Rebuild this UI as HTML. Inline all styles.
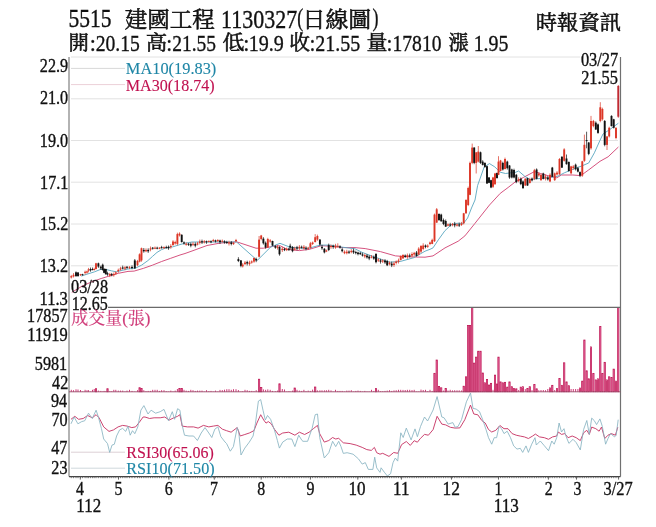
<!DOCTYPE html>
<html><head><meta charset="utf-8"><style>html,body{margin:0;padding:0;background:#fff;width:656px;height:527px;overflow:hidden}svg{display:block}</style></head>
<body><svg width="656" height="527" viewBox="0 0 656 527">
<rect width="656" height="527" fill="#fff"/>
<line x1="71" y1="57.0" x2="580" y2="57.0" stroke="#e2e2e2" stroke-width="1"/>
<line x1="71" y1="98.8" x2="618" y2="98.8" stroke="#e2e2e2" stroke-width="1"/>
<line x1="71" y1="140.5" x2="618" y2="140.5" stroke="#e2e2e2" stroke-width="1"/>
<line x1="71" y1="182.2" x2="618" y2="182.2" stroke="#e2e2e2" stroke-width="1"/>
<line x1="71" y1="224.0" x2="618" y2="224.0" stroke="#e2e2e2" stroke-width="1"/>
<line x1="71" y1="265.8" x2="618" y2="265.8" stroke="#e2e2e2" stroke-width="1"/>
<line x1="71" y1="68.4" x2="125" y2="68.4" stroke="#d8d8d8" stroke-width="1"/>
<line x1="71" y1="84.6" x2="125" y2="84.6" stroke="#ecd0d8" stroke-width="1"/>
<line x1="71" y1="452.2" x2="125" y2="452.2" stroke="#dcd0d6" stroke-width="1"/>
<line x1="71" y1="468.2" x2="125" y2="468.2" stroke="#cfd8dc" stroke-width="1"/>
<polyline points="71.8,292.3 82.2,286.1 91.7,281.8 101.2,278.5 110.7,275.6 118.3,273.3 128.0,271.4 134.1,271.1 143.3,268.4 152.4,265.2 161.6,261.5 170.7,258.3 180.0,255.0 185.0,253.5 192.0,251.0 207.0,245.5 220.0,243.1 236.6,241.8 256.0,248.2 263.4,248.2 273.2,246.3 280.0,245.7 287.2,249.4 299.4,250.6 309.1,249.4 321.3,245.7 332.3,246.3 343.3,247.6 355.0,247.6 365.2,248.6 380.4,251.6 395.5,255.9 410.7,256.9 425.0,257.2 433.0,255.9 445.0,247.9 458.2,241.2 464.9,235.9 475.0,223.3 489.5,205.0 500.2,193.4 508.1,187.5 515.0,182.1 523.3,177.5 534.6,171.5 540.5,173.5 549.8,176.2 556.8,177.8 561.4,175.0 572.8,175.0 580.8,175.6 588.7,169.9 600.0,161.3 608.1,156.8 618.4,147.0" fill="none" stroke="#d04070" stroke-width="0.9" stroke-linejoin="round"/>
<polyline points="81.3,276.1 87.0,274.2 94.6,271.8 100.3,269.5 106.0,269.5 111.7,270.9 116.4,271.8 122.1,270.4 128.0,269.0 136.0,267.9 141.5,265.2 147.9,260.6 152.4,256.5 157.0,252.4 161.6,249.6 166.2,247.8 172.6,246.9 179.9,244.6 185.0,243.2 192.0,242.0 205.0,242.0 236.6,242.0 257.3,260.4 270.7,247.0 280.0,243.3 289.6,247.0 306.7,248.8 320.1,245.1 329.9,245.1 340.9,247.0 355.0,248.8 362.1,252.4 374.3,256.9 389.5,262.2 400.1,261.5 413.8,257.7 425.0,251.2 430.0,249.3 433.0,247.9 438.3,239.9 445.0,230.6 451.6,224.6 457.0,223.3 463.6,223.3 467.6,218.0 471.5,208.0 475.0,200.0 477.6,185.5 484.2,166.9 489.5,163.6 494.8,166.9 500.2,172.2 505.5,173.5 510.8,172.8 515.0,172.5 518.6,171.0 524.6,176.2 529.9,179.5 536.6,178.8 544.5,178.2 551.2,177.5 557.8,176.2 564.4,172.8 572.8,169.3 581.9,165.9 588.7,163.0 594.4,152.8 600.0,140.3 603.0,134.0 609.8,129.5 618.4,123.2" fill="none" stroke="#58a6c0" stroke-width="0.9" stroke-linejoin="round"/>
<line x1="71.3" y1="274.9" x2="71.3" y2="278.5" stroke="#dc3626" stroke-width="0.7"/>
<rect x="70.35" y="276.1" width="1.9" height="1.4" fill="#dc3626"/>
<line x1="73.5" y1="273.1" x2="73.5" y2="277.5" stroke="#dc3626" stroke-width="0.7"/>
<rect x="72.55" y="274.8" width="1.9" height="1.7" fill="#dc3626"/>
<line x1="76.0" y1="271.4" x2="76.0" y2="276.8" stroke="#111" stroke-width="0.7"/>
<rect x="75.05" y="272.3" width="1.9" height="3.8" fill="#111"/>
<line x1="78.0" y1="272.1" x2="78.0" y2="276.9" stroke="#111" stroke-width="0.7"/>
<rect x="77.05" y="272.5" width="1.9" height="3.5" fill="#111"/>
<line x1="80.5" y1="273.9" x2="80.5" y2="276.0" stroke="#dc3626" stroke-width="0.7"/>
<rect x="79.55" y="274.2" width="1.9" height="1.0" fill="#dc3626"/>
<line x1="82.5" y1="273.8" x2="82.5" y2="275.6" stroke="#111" stroke-width="0.7"/>
<rect x="81.55" y="274.2" width="1.9" height="1.0" fill="#111"/>
<line x1="85.1" y1="270.6" x2="85.1" y2="274.6" stroke="#dc3626" stroke-width="0.7"/>
<rect x="84.15" y="271.8" width="1.9" height="1.1" fill="#dc3626"/>
<line x1="87.0" y1="270.6" x2="87.0" y2="273.6" stroke="#dc3626" stroke-width="0.7"/>
<rect x="86.05" y="271.4" width="1.9" height="1.2" fill="#dc3626"/>
<line x1="88.5" y1="267.9" x2="88.5" y2="272.4" stroke="#dc3626" stroke-width="0.7"/>
<rect x="87.55" y="269.4" width="1.9" height="1.2" fill="#dc3626"/>
<line x1="90.5" y1="267.5" x2="90.5" y2="271.7" stroke="#111" stroke-width="0.7"/>
<rect x="89.55" y="269.0" width="1.9" height="1.4" fill="#111"/>
<line x1="92.5" y1="267.5" x2="92.5" y2="270.4" stroke="#111" stroke-width="0.7"/>
<rect x="91.55" y="269.0" width="1.9" height="1.0" fill="#111"/>
<line x1="94.2" y1="267.7" x2="94.2" y2="270.6" stroke="#dc3626" stroke-width="0.7"/>
<rect x="93.25" y="269.0" width="1.9" height="1.0" fill="#dc3626"/>
<line x1="96.0" y1="262.8" x2="96.0" y2="269.4" stroke="#dc3626" stroke-width="0.7"/>
<rect x="95.05" y="263.3" width="1.9" height="5.7" fill="#dc3626"/>
<line x1="98.4" y1="262.6" x2="98.4" y2="267.9" stroke="#111" stroke-width="0.7"/>
<rect x="97.45" y="263.3" width="1.9" height="3.3" fill="#111"/>
<line x1="100.8" y1="265.6" x2="100.8" y2="270.0" stroke="#111" stroke-width="0.7"/>
<rect x="99.85" y="266.7" width="1.9" height="1.7" fill="#111"/>
<line x1="102.7" y1="263.6" x2="102.7" y2="270.7" stroke="#111" stroke-width="0.7"/>
<rect x="101.75" y="264.7" width="1.9" height="5.3" fill="#111"/>
<line x1="104.1" y1="268.0" x2="104.1" y2="273.2" stroke="#111" stroke-width="0.7"/>
<rect x="103.15" y="269.0" width="1.9" height="3.8" fill="#111"/>
<line x1="105.8" y1="268.6" x2="105.8" y2="274.7" stroke="#111" stroke-width="0.7"/>
<rect x="104.85" y="269.0" width="1.9" height="5.2" fill="#111"/>
<line x1="107.5" y1="271.7" x2="107.5" y2="275.8" stroke="#111" stroke-width="0.7"/>
<rect x="106.55" y="273.2" width="1.9" height="1.3" fill="#111"/>
<line x1="109.8" y1="272.8" x2="109.8" y2="277.1" stroke="#dc3626" stroke-width="0.7"/>
<rect x="108.85" y="274.0" width="1.9" height="1.6" fill="#dc3626"/>
<line x1="111.7" y1="272.9" x2="111.7" y2="276.3" stroke="#111" stroke-width="0.7"/>
<rect x="110.75" y="274.1" width="1.9" height="1.1" fill="#111"/>
<line x1="113.8" y1="272.4" x2="113.8" y2="276.7" stroke="#dc3626" stroke-width="0.7"/>
<rect x="112.85" y="274.1" width="1.9" height="1.1" fill="#dc3626"/>
<line x1="115.8" y1="271.4" x2="115.8" y2="275.0" stroke="#dc3626" stroke-width="0.7"/>
<rect x="114.85" y="272.4" width="1.9" height="1.2" fill="#dc3626"/>
<line x1="118.3" y1="268.6" x2="118.3" y2="272.8" stroke="#dc3626" stroke-width="0.7"/>
<rect x="117.35" y="269.9" width="1.9" height="1.1" fill="#dc3626"/>
<line x1="120.5" y1="266.8" x2="120.5" y2="270.6" stroke="#dc3626" stroke-width="0.7"/>
<rect x="119.55" y="268.4" width="1.9" height="1.2" fill="#dc3626"/>
<line x1="122.7" y1="265.6" x2="122.7" y2="269.4" stroke="#111" stroke-width="0.7"/>
<rect x="121.75" y="267.5" width="1.9" height="1.1" fill="#111"/>
<line x1="125.0" y1="266.2" x2="125.0" y2="270.2" stroke="#dc3626" stroke-width="0.7"/>
<rect x="124.05" y="267.4" width="1.9" height="1.2" fill="#dc3626"/>
<line x1="127.0" y1="266.0" x2="127.0" y2="268.9" stroke="#111" stroke-width="0.7"/>
<rect x="126.05" y="266.8" width="1.9" height="1.0" fill="#111"/>
<line x1="129.5" y1="266.2" x2="129.5" y2="269.1" stroke="#dc3626" stroke-width="0.7"/>
<rect x="128.55" y="266.8" width="1.9" height="1.0" fill="#dc3626"/>
<line x1="132.0" y1="265.3" x2="132.0" y2="269.3" stroke="#111" stroke-width="0.7"/>
<rect x="131.05" y="266.9" width="1.9" height="1.1" fill="#111"/>
<line x1="134.8" y1="259.0" x2="134.8" y2="269.0" stroke="#111" stroke-width="0.7"/>
<rect x="133.85" y="260.4" width="1.9" height="7.9" fill="#111"/>
<line x1="137.5" y1="259.9" x2="137.5" y2="266.2" stroke="#dc3626" stroke-width="0.7"/>
<rect x="136.55" y="261.0" width="1.9" height="4.2" fill="#dc3626"/>
<line x1="139.6" y1="253.3" x2="139.6" y2="262.4" stroke="#dc3626" stroke-width="0.7"/>
<rect x="138.65" y="254.3" width="1.9" height="7.3" fill="#dc3626"/>
<line x1="141.5" y1="247.6" x2="141.5" y2="261.7" stroke="#dc3626" stroke-width="0.7"/>
<rect x="140.55" y="248.2" width="1.9" height="12.2" fill="#dc3626"/>
<line x1="143.8" y1="248.0" x2="143.8" y2="252.7" stroke="#111" stroke-width="0.7"/>
<rect x="142.85" y="249.9" width="1.9" height="1.4" fill="#111"/>
<line x1="146.0" y1="248.3" x2="146.0" y2="252.2" stroke="#dc3626" stroke-width="0.7"/>
<rect x="145.05" y="249.9" width="1.9" height="1.4" fill="#dc3626"/>
<line x1="148.2" y1="248.3" x2="148.2" y2="252.9" stroke="#111" stroke-width="0.7"/>
<rect x="147.25" y="249.9" width="1.9" height="1.4" fill="#111"/>
<line x1="150.5" y1="246.5" x2="150.5" y2="251.3" stroke="#dc3626" stroke-width="0.7"/>
<rect x="149.55" y="248.4" width="1.9" height="1.2" fill="#dc3626"/>
<line x1="152.7" y1="247.0" x2="152.7" y2="249.6" stroke="#111" stroke-width="0.7"/>
<rect x="151.75" y="247.7" width="1.9" height="1.0" fill="#111"/>
<line x1="155.0" y1="246.5" x2="155.0" y2="249.1" stroke="#dc3626" stroke-width="0.7"/>
<rect x="154.05" y="247.7" width="1.9" height="1.0" fill="#dc3626"/>
<line x1="157.2" y1="246.7" x2="157.2" y2="249.3" stroke="#111" stroke-width="0.7"/>
<rect x="156.25" y="247.7" width="1.9" height="1.0" fill="#111"/>
<line x1="159.5" y1="247.2" x2="159.5" y2="249.2" stroke="#dc3626" stroke-width="0.7"/>
<rect x="158.55" y="247.7" width="1.9" height="1.0" fill="#dc3626"/>
<line x1="161.6" y1="245.8" x2="161.6" y2="248.7" stroke="#111" stroke-width="0.7"/>
<rect x="160.65" y="247.1" width="1.9" height="1.0" fill="#111"/>
<line x1="164.0" y1="246.4" x2="164.0" y2="249.0" stroke="#dc3626" stroke-width="0.7"/>
<rect x="163.05" y="247.1" width="1.9" height="1.0" fill="#dc3626"/>
<line x1="166.3" y1="245.7" x2="166.3" y2="248.6" stroke="#111" stroke-width="0.7"/>
<rect x="165.35" y="247.1" width="1.9" height="1.0" fill="#111"/>
<line x1="168.5" y1="245.5" x2="168.5" y2="249.8" stroke="#111" stroke-width="0.7"/>
<rect x="167.55" y="246.8" width="1.9" height="1.5" fill="#111"/>
<line x1="170.8" y1="244.1" x2="170.8" y2="248.8" stroke="#dc3626" stroke-width="0.7"/>
<rect x="169.85" y="245.9" width="1.9" height="1.2" fill="#dc3626"/>
<line x1="173.0" y1="240.2" x2="173.0" y2="245.7" stroke="#dc3626" stroke-width="0.7"/>
<rect x="172.05" y="241.5" width="1.9" height="3.6" fill="#dc3626"/>
<line x1="175.2" y1="240.7" x2="175.2" y2="244.7" stroke="#dc3626" stroke-width="0.7"/>
<rect x="174.25" y="242.0" width="1.9" height="1.5" fill="#dc3626"/>
<line x1="177.4" y1="232.7" x2="177.4" y2="245.3" stroke="#dc3626" stroke-width="0.7"/>
<rect x="176.45" y="234.1" width="1.9" height="9.8" fill="#dc3626"/>
<line x1="179.5" y1="232.3" x2="179.5" y2="236.5" stroke="#dc3626" stroke-width="0.7"/>
<rect x="178.55" y="233.6" width="1.9" height="1.8" fill="#dc3626"/>
<line x1="181.7" y1="234.3" x2="181.7" y2="242.6" stroke="#111" stroke-width="0.7"/>
<rect x="180.75" y="234.8" width="1.9" height="7.2" fill="#111"/>
<line x1="184.0" y1="241.4" x2="184.0" y2="244.7" stroke="#111" stroke-width="0.7"/>
<rect x="183.05" y="242.4" width="1.9" height="1.1" fill="#111"/>
<line x1="186.2" y1="242.3" x2="186.2" y2="245.7" stroke="#dc3626" stroke-width="0.7"/>
<rect x="185.25" y="243.7" width="1.9" height="1.1" fill="#dc3626"/>
<line x1="188.5" y1="243.0" x2="188.5" y2="245.9" stroke="#111" stroke-width="0.7"/>
<rect x="187.55" y="243.7" width="1.9" height="1.1" fill="#111"/>
<line x1="190.8" y1="242.6" x2="190.8" y2="247.3" stroke="#111" stroke-width="0.7"/>
<rect x="189.85" y="243.9" width="1.9" height="1.8" fill="#111"/>
<line x1="193.0" y1="242.1" x2="193.0" y2="246.1" stroke="#dc3626" stroke-width="0.7"/>
<rect x="192.05" y="243.8" width="1.9" height="1.0" fill="#dc3626"/>
<line x1="195.3" y1="242.4" x2="195.3" y2="247.3" stroke="#111" stroke-width="0.7"/>
<rect x="194.35" y="243.9" width="1.9" height="1.8" fill="#111"/>
<line x1="197.5" y1="241.9" x2="197.5" y2="245.4" stroke="#dc3626" stroke-width="0.7"/>
<rect x="196.55" y="243.4" width="1.9" height="1.2" fill="#dc3626"/>
<line x1="199.8" y1="239.6" x2="199.8" y2="244.5" stroke="#dc3626" stroke-width="0.7"/>
<rect x="198.85" y="241.5" width="1.9" height="1.4" fill="#dc3626"/>
<line x1="202.0" y1="239.6" x2="202.0" y2="244.0" stroke="#111" stroke-width="0.7"/>
<rect x="201.05" y="241.3" width="1.9" height="1.1" fill="#111"/>
<line x1="204.3" y1="240.1" x2="204.3" y2="243.5" stroke="#dc3626" stroke-width="0.7"/>
<rect x="203.35" y="241.3" width="1.9" height="1.1" fill="#dc3626"/>
<line x1="206.5" y1="240.6" x2="206.5" y2="243.8" stroke="#111" stroke-width="0.7"/>
<rect x="205.55" y="241.3" width="1.9" height="1.0" fill="#111"/>
<line x1="208.8" y1="240.5" x2="208.8" y2="242.4" stroke="#dc3626" stroke-width="0.7"/>
<rect x="207.85" y="240.9" width="1.9" height="1.0" fill="#dc3626"/>
<line x1="211.0" y1="240.4" x2="211.0" y2="243.2" stroke="#111" stroke-width="0.7"/>
<rect x="210.05" y="241.3" width="1.9" height="1.0" fill="#111"/>
<line x1="213.3" y1="238.9" x2="213.3" y2="241.9" stroke="#dc3626" stroke-width="0.7"/>
<rect x="212.35" y="240.0" width="1.9" height="1.1" fill="#dc3626"/>
<line x1="215.5" y1="239.7" x2="215.5" y2="242.5" stroke="#111" stroke-width="0.7"/>
<rect x="214.55" y="240.4" width="1.9" height="1.2" fill="#111"/>
<line x1="217.8" y1="239.2" x2="217.8" y2="242.2" stroke="#dc3626" stroke-width="0.7"/>
<rect x="216.85" y="240.0" width="1.9" height="1.1" fill="#dc3626"/>
<line x1="220.0" y1="239.7" x2="220.0" y2="244.0" stroke="#111" stroke-width="0.7"/>
<rect x="219.05" y="240.5" width="1.9" height="1.6" fill="#111"/>
<line x1="222.3" y1="239.5" x2="222.3" y2="242.5" stroke="#dc3626" stroke-width="0.7"/>
<rect x="221.35" y="240.8" width="1.9" height="1.0" fill="#dc3626"/>
<line x1="224.5" y1="240.3" x2="224.5" y2="243.7" stroke="#111" stroke-width="0.7"/>
<rect x="223.55" y="241.3" width="1.9" height="1.3" fill="#111"/>
<line x1="226.8" y1="240.8" x2="226.8" y2="243.9" stroke="#111" stroke-width="0.7"/>
<rect x="225.85" y="241.9" width="1.9" height="1.2" fill="#111"/>
<line x1="229.0" y1="240.7" x2="229.0" y2="245.5" stroke="#dc3626" stroke-width="0.7"/>
<rect x="228.05" y="242.4" width="1.9" height="1.2" fill="#dc3626"/>
<line x1="231.3" y1="241.1" x2="231.3" y2="245.4" stroke="#111" stroke-width="0.7"/>
<rect x="230.35" y="242.5" width="1.9" height="1.5" fill="#111"/>
<line x1="233.5" y1="242.1" x2="233.5" y2="244.9" stroke="#dc3626" stroke-width="0.7"/>
<rect x="232.55" y="242.9" width="1.9" height="1.2" fill="#dc3626"/>
<line x1="236.0" y1="238.9" x2="236.0" y2="242.1" stroke="#dc3626" stroke-width="0.7"/>
<rect x="235.05" y="240.0" width="1.9" height="1.1" fill="#dc3626"/>
<line x1="238.4" y1="257.2" x2="238.4" y2="262.1" stroke="#111" stroke-width="0.7"/>
<rect x="237.45" y="259.1" width="1.9" height="1.9" fill="#111"/>
<line x1="240.9" y1="260.1" x2="240.9" y2="267.3" stroke="#111" stroke-width="0.7"/>
<rect x="239.95" y="260.4" width="1.9" height="5.5" fill="#111"/>
<line x1="242.7" y1="263.1" x2="242.7" y2="267.5" stroke="#dc3626" stroke-width="0.7"/>
<rect x="241.75" y="264.6" width="1.9" height="1.8" fill="#dc3626"/>
<line x1="245.0" y1="261.0" x2="245.0" y2="264.9" stroke="#dc3626" stroke-width="0.7"/>
<rect x="244.05" y="262.5" width="1.9" height="1.6" fill="#dc3626"/>
<line x1="247.2" y1="260.7" x2="247.2" y2="265.5" stroke="#111" stroke-width="0.7"/>
<rect x="246.25" y="262.1" width="1.9" height="1.4" fill="#111"/>
<line x1="249.5" y1="260.7" x2="249.5" y2="265.7" stroke="#dc3626" stroke-width="0.7"/>
<rect x="248.55" y="262.5" width="1.9" height="1.6" fill="#dc3626"/>
<line x1="251.7" y1="260.4" x2="251.7" y2="263.7" stroke="#dc3626" stroke-width="0.7"/>
<rect x="250.75" y="261.4" width="1.9" height="1.2" fill="#dc3626"/>
<line x1="254.0" y1="257.5" x2="254.0" y2="262.8" stroke="#dc3626" stroke-width="0.7"/>
<rect x="253.05" y="258.0" width="1.9" height="3.6" fill="#dc3626"/>
<line x1="256.2" y1="257.6" x2="256.2" y2="262.2" stroke="#111" stroke-width="0.7"/>
<rect x="255.25" y="259.0" width="1.9" height="1.5" fill="#111"/>
<line x1="259.1" y1="236.0" x2="259.1" y2="257.4" stroke="#dc3626" stroke-width="0.7"/>
<rect x="258.15" y="239.6" width="1.9" height="17.1" fill="#dc3626"/>
<line x1="261.2" y1="234.9" x2="261.2" y2="240.3" stroke="#dc3626" stroke-width="0.7"/>
<rect x="260.25" y="235.5" width="1.9" height="3.5" fill="#dc3626"/>
<line x1="263.4" y1="237.2" x2="263.4" y2="244.6" stroke="#111" stroke-width="0.7"/>
<rect x="262.45" y="238.7" width="1.9" height="4.6" fill="#111"/>
<line x1="265.6" y1="241.5" x2="265.6" y2="248.7" stroke="#111" stroke-width="0.7"/>
<rect x="264.65" y="242.8" width="1.9" height="4.6" fill="#111"/>
<line x1="267.8" y1="237.8" x2="267.8" y2="248.0" stroke="#dc3626" stroke-width="0.7"/>
<rect x="266.85" y="239.0" width="1.9" height="8.4" fill="#dc3626"/>
<line x1="270.2" y1="239.1" x2="270.2" y2="242.7" stroke="#dc3626" stroke-width="0.7"/>
<rect x="269.25" y="240.4" width="1.9" height="1.2" fill="#dc3626"/>
<line x1="272.5" y1="240.7" x2="272.5" y2="245.9" stroke="#111" stroke-width="0.7"/>
<rect x="271.55" y="241.0" width="1.9" height="4.6" fill="#111"/>
<line x1="275.4" y1="245.1" x2="275.4" y2="248.8" stroke="#111" stroke-width="0.7"/>
<rect x="274.45" y="246.2" width="1.9" height="1.5" fill="#111"/>
<line x1="277.5" y1="245.2" x2="277.5" y2="249.6" stroke="#dc3626" stroke-width="0.7"/>
<rect x="276.55" y="246.7" width="1.9" height="1.1" fill="#dc3626"/>
<line x1="279.5" y1="246.2" x2="279.5" y2="255.7" stroke="#111" stroke-width="0.7"/>
<rect x="278.55" y="247.0" width="1.9" height="7.3" fill="#111"/>
<line x1="282.3" y1="246.7" x2="282.3" y2="252.0" stroke="#dc3626" stroke-width="0.7"/>
<rect x="281.35" y="248.7" width="1.9" height="1.4" fill="#dc3626"/>
<line x1="284.5" y1="247.8" x2="284.5" y2="251.1" stroke="#111" stroke-width="0.7"/>
<rect x="283.55" y="248.9" width="1.9" height="1.2" fill="#111"/>
<line x1="286.7" y1="247.6" x2="286.7" y2="251.1" stroke="#dc3626" stroke-width="0.7"/>
<rect x="285.75" y="248.7" width="1.9" height="1.4" fill="#dc3626"/>
<line x1="288.9" y1="247.7" x2="288.9" y2="251.0" stroke="#111" stroke-width="0.7"/>
<rect x="287.95" y="248.6" width="1.9" height="1.1" fill="#111"/>
<line x1="290.2" y1="243.7" x2="290.2" y2="249.5" stroke="#111" stroke-width="0.7"/>
<rect x="289.25" y="245.7" width="1.9" height="1.9" fill="#111"/>
<line x1="292.5" y1="246.1" x2="292.5" y2="252.3" stroke="#111" stroke-width="0.7"/>
<rect x="291.55" y="247.0" width="1.9" height="4.2" fill="#111"/>
<line x1="294.7" y1="246.7" x2="294.7" y2="250.4" stroke="#dc3626" stroke-width="0.7"/>
<rect x="293.75" y="248.4" width="1.9" height="1.2" fill="#dc3626"/>
<line x1="297.0" y1="245.9" x2="297.0" y2="250.4" stroke="#111" stroke-width="0.7"/>
<rect x="296.05" y="247.4" width="1.9" height="1.2" fill="#111"/>
<line x1="299.4" y1="245.1" x2="299.4" y2="250.0" stroke="#dc3626" stroke-width="0.7"/>
<rect x="298.45" y="246.8" width="1.9" height="1.5" fill="#dc3626"/>
<line x1="301.6" y1="245.6" x2="301.6" y2="248.5" stroke="#111" stroke-width="0.7"/>
<rect x="300.65" y="246.8" width="1.9" height="1.0" fill="#111"/>
<line x1="303.9" y1="245.1" x2="303.9" y2="249.5" stroke="#dc3626" stroke-width="0.7"/>
<rect x="302.95" y="246.8" width="1.9" height="1.5" fill="#dc3626"/>
<line x1="306.0" y1="246.3" x2="306.0" y2="250.3" stroke="#111" stroke-width="0.7"/>
<rect x="305.05" y="247.7" width="1.9" height="1.0" fill="#111"/>
<line x1="308.2" y1="246.8" x2="308.2" y2="249.6" stroke="#dc3626" stroke-width="0.7"/>
<rect x="307.25" y="247.7" width="1.9" height="1.0" fill="#dc3626"/>
<line x1="310.4" y1="241.9" x2="310.4" y2="248.8" stroke="#dc3626" stroke-width="0.7"/>
<rect x="309.45" y="243.3" width="1.9" height="4.3" fill="#dc3626"/>
<line x1="312.6" y1="241.5" x2="312.6" y2="245.0" stroke="#dc3626" stroke-width="0.7"/>
<rect x="311.65" y="242.5" width="1.9" height="1.5" fill="#dc3626"/>
<line x1="315.2" y1="234.1" x2="315.2" y2="242.5" stroke="#dc3626" stroke-width="0.7"/>
<rect x="314.25" y="237.2" width="1.9" height="4.8" fill="#dc3626"/>
<line x1="317.4" y1="234.6" x2="317.4" y2="240.9" stroke="#dc3626" stroke-width="0.7"/>
<rect x="316.45" y="236.0" width="1.9" height="3.6" fill="#dc3626"/>
<line x1="319.9" y1="239.1" x2="319.9" y2="245.8" stroke="#111" stroke-width="0.7"/>
<rect x="318.95" y="239.6" width="1.9" height="4.9" fill="#111"/>
<line x1="322.0" y1="244.8" x2="322.0" y2="249.9" stroke="#111" stroke-width="0.7"/>
<rect x="321.05" y="246.8" width="1.9" height="1.5" fill="#111"/>
<line x1="324.4" y1="248.1" x2="324.4" y2="253.4" stroke="#111" stroke-width="0.7"/>
<rect x="323.45" y="248.8" width="1.9" height="3.6" fill="#111"/>
<line x1="326.4" y1="249.5" x2="326.4" y2="252.1" stroke="#dc3626" stroke-width="0.7"/>
<rect x="325.45" y="250.4" width="1.9" height="1.1" fill="#dc3626"/>
<line x1="328.7" y1="243.6" x2="328.7" y2="251.1" stroke="#111" stroke-width="0.7"/>
<rect x="327.75" y="245.1" width="1.9" height="4.9" fill="#111"/>
<line x1="331.0" y1="244.6" x2="331.0" y2="248.9" stroke="#dc3626" stroke-width="0.7"/>
<rect x="330.05" y="245.9" width="1.9" height="1.2" fill="#dc3626"/>
<line x1="333.2" y1="244.7" x2="333.2" y2="248.8" stroke="#111" stroke-width="0.7"/>
<rect x="332.25" y="245.9" width="1.9" height="1.2" fill="#111"/>
<line x1="335.5" y1="243.8" x2="335.5" y2="248.8" stroke="#dc3626" stroke-width="0.7"/>
<rect x="334.55" y="245.7" width="1.9" height="1.9" fill="#dc3626"/>
<line x1="337.8" y1="243.3" x2="337.8" y2="247.6" stroke="#dc3626" stroke-width="0.7"/>
<rect x="336.85" y="245.8" width="1.9" height="1.0" fill="#dc3626"/>
<line x1="340.0" y1="245.3" x2="340.0" y2="248.6" stroke="#111" stroke-width="0.7"/>
<rect x="339.05" y="246.4" width="1.9" height="1.2" fill="#111"/>
<line x1="342.2" y1="247.8" x2="342.2" y2="252.4" stroke="#111" stroke-width="0.7"/>
<rect x="341.25" y="249.4" width="1.9" height="1.8" fill="#111"/>
<line x1="344.5" y1="250.4" x2="344.5" y2="254.2" stroke="#dc3626" stroke-width="0.7"/>
<rect x="343.55" y="251.7" width="1.9" height="1.5" fill="#dc3626"/>
<line x1="346.8" y1="249.8" x2="346.8" y2="254.4" stroke="#dc3626" stroke-width="0.7"/>
<rect x="345.85" y="251.7" width="1.9" height="1.5" fill="#dc3626"/>
<line x1="349.0" y1="250.4" x2="349.0" y2="254.0" stroke="#111" stroke-width="0.7"/>
<rect x="348.05" y="251.6" width="1.9" height="1.1" fill="#111"/>
<line x1="351.3" y1="249.1" x2="351.3" y2="253.3" stroke="#dc3626" stroke-width="0.7"/>
<rect x="350.35" y="250.9" width="1.9" height="1.2" fill="#dc3626"/>
<line x1="353.5" y1="248.6" x2="353.5" y2="253.9" stroke="#111" stroke-width="0.7"/>
<rect x="352.55" y="250.6" width="1.9" height="1.8" fill="#111"/>
<line x1="355.8" y1="250.7" x2="355.8" y2="254.4" stroke="#111" stroke-width="0.7"/>
<rect x="354.85" y="252.0" width="1.9" height="1.1" fill="#111"/>
<line x1="358.0" y1="251.7" x2="358.0" y2="255.4" stroke="#111" stroke-width="0.7"/>
<rect x="357.05" y="252.5" width="1.9" height="1.6" fill="#111"/>
<line x1="360.3" y1="252.0" x2="360.3" y2="254.9" stroke="#111" stroke-width="0.7"/>
<rect x="359.35" y="252.9" width="1.9" height="1.3" fill="#111"/>
<line x1="362.5" y1="252.7" x2="362.5" y2="256.5" stroke="#111" stroke-width="0.7"/>
<rect x="361.55" y="254.4" width="1.9" height="1.2" fill="#111"/>
<line x1="364.8" y1="253.6" x2="364.8" y2="258.2" stroke="#dc3626" stroke-width="0.7"/>
<rect x="363.85" y="255.0" width="1.9" height="1.5" fill="#dc3626"/>
<line x1="367.0" y1="254.0" x2="367.0" y2="258.7" stroke="#111" stroke-width="0.7"/>
<rect x="366.05" y="255.6" width="1.9" height="1.8" fill="#111"/>
<line x1="369.2" y1="255.1" x2="369.2" y2="260.2" stroke="#111" stroke-width="0.7"/>
<rect x="368.25" y="256.6" width="1.9" height="1.9" fill="#111"/>
<line x1="371.5" y1="255.0" x2="371.5" y2="258.4" stroke="#dc3626" stroke-width="0.7"/>
<rect x="370.55" y="256.6" width="1.9" height="1.1" fill="#dc3626"/>
<line x1="373.8" y1="255.5" x2="373.8" y2="259.8" stroke="#111" stroke-width="0.7"/>
<rect x="372.85" y="257.0" width="1.9" height="1.6" fill="#111"/>
<line x1="376.0" y1="253.3" x2="376.0" y2="263.4" stroke="#111" stroke-width="0.7"/>
<rect x="375.05" y="253.9" width="1.9" height="8.3" fill="#111"/>
<line x1="378.3" y1="258.1" x2="378.3" y2="262.0" stroke="#dc3626" stroke-width="0.7"/>
<rect x="377.35" y="259.4" width="1.9" height="1.2" fill="#dc3626"/>
<line x1="380.5" y1="258.8" x2="380.5" y2="263.6" stroke="#111" stroke-width="0.7"/>
<rect x="379.55" y="260.4" width="1.9" height="1.3" fill="#111"/>
<line x1="382.7" y1="259.2" x2="382.7" y2="263.0" stroke="#dc3626" stroke-width="0.7"/>
<rect x="381.75" y="260.4" width="1.9" height="1.2" fill="#dc3626"/>
<line x1="385.0" y1="259.1" x2="385.0" y2="263.9" stroke="#111" stroke-width="0.7"/>
<rect x="384.05" y="260.6" width="1.9" height="1.8" fill="#111"/>
<line x1="387.2" y1="259.9" x2="387.2" y2="266.1" stroke="#111" stroke-width="0.7"/>
<rect x="386.25" y="261.0" width="1.9" height="4.3" fill="#111"/>
<line x1="389.5" y1="261.3" x2="389.5" y2="265.4" stroke="#dc3626" stroke-width="0.7"/>
<rect x="388.55" y="262.7" width="1.9" height="1.4" fill="#dc3626"/>
<line x1="391.7" y1="261.6" x2="391.7" y2="267.1" stroke="#111" stroke-width="0.7"/>
<rect x="390.75" y="263.6" width="1.9" height="1.8" fill="#111"/>
<line x1="394.0" y1="261.6" x2="394.0" y2="266.9" stroke="#dc3626" stroke-width="0.7"/>
<rect x="393.05" y="263.5" width="1.9" height="1.5" fill="#dc3626"/>
<line x1="396.2" y1="260.4" x2="396.2" y2="264.5" stroke="#dc3626" stroke-width="0.7"/>
<rect x="395.25" y="261.5" width="1.9" height="1.5" fill="#dc3626"/>
<line x1="398.5" y1="258.6" x2="398.5" y2="263.5" stroke="#dc3626" stroke-width="0.7"/>
<rect x="397.55" y="260.4" width="1.9" height="1.3" fill="#dc3626"/>
<line x1="400.7" y1="255.5" x2="400.7" y2="260.4" stroke="#dc3626" stroke-width="0.7"/>
<rect x="399.75" y="256.0" width="1.9" height="4.0" fill="#dc3626"/>
<line x1="403.0" y1="254.2" x2="403.0" y2="258.8" stroke="#dc3626" stroke-width="0.7"/>
<rect x="402.05" y="255.0" width="1.9" height="3.4" fill="#dc3626"/>
<line x1="405.2" y1="254.4" x2="405.2" y2="257.9" stroke="#111" stroke-width="0.7"/>
<rect x="404.25" y="255.5" width="1.9" height="1.5" fill="#111"/>
<line x1="407.4" y1="253.5" x2="407.4" y2="258.9" stroke="#dc3626" stroke-width="0.7"/>
<rect x="406.45" y="255.2" width="1.9" height="1.9" fill="#dc3626"/>
<line x1="409.7" y1="253.6" x2="409.7" y2="257.5" stroke="#111" stroke-width="0.7"/>
<rect x="408.75" y="255.4" width="1.9" height="1.2" fill="#111"/>
<line x1="412.0" y1="252.3" x2="412.0" y2="257.3" stroke="#dc3626" stroke-width="0.7"/>
<rect x="411.05" y="254.0" width="1.9" height="1.6" fill="#dc3626"/>
<line x1="414.2" y1="251.9" x2="414.2" y2="256.4" stroke="#dc3626" stroke-width="0.7"/>
<rect x="413.25" y="252.9" width="1.9" height="1.6" fill="#dc3626"/>
<line x1="416.5" y1="251.0" x2="416.5" y2="256.6" stroke="#111" stroke-width="0.7"/>
<rect x="415.55" y="252.5" width="1.9" height="3.5" fill="#111"/>
<line x1="418.7" y1="247.2" x2="418.7" y2="255.4" stroke="#dc3626" stroke-width="0.7"/>
<rect x="417.75" y="248.6" width="1.9" height="6.0" fill="#dc3626"/>
<line x1="421.0" y1="245.1" x2="421.0" y2="253.1" stroke="#dc3626" stroke-width="0.7"/>
<rect x="420.05" y="246.0" width="1.9" height="5.6" fill="#dc3626"/>
<line x1="423.2" y1="243.3" x2="423.2" y2="250.3" stroke="#dc3626" stroke-width="0.7"/>
<rect x="422.25" y="245.5" width="1.9" height="3.5" fill="#dc3626"/>
<line x1="425.5" y1="244.5" x2="425.5" y2="248.3" stroke="#111" stroke-width="0.7"/>
<rect x="424.55" y="245.5" width="1.9" height="1.5" fill="#111"/>
<line x1="427.7" y1="244.3" x2="427.7" y2="247.9" stroke="#dc3626" stroke-width="0.7"/>
<rect x="426.75" y="245.6" width="1.9" height="1.2" fill="#dc3626"/>
<line x1="430.0" y1="241.5" x2="430.0" y2="245.2" stroke="#dc3626" stroke-width="0.7"/>
<rect x="429.05" y="242.5" width="1.9" height="1.5" fill="#dc3626"/>
<line x1="432.2" y1="238.7" x2="432.2" y2="244.2" stroke="#dc3626" stroke-width="0.7"/>
<rect x="431.25" y="239.9" width="1.9" height="4.0" fill="#dc3626"/>
<line x1="434.5" y1="213.6" x2="434.5" y2="242.0" stroke="#dc3626" stroke-width="0.7"/>
<rect x="433.55" y="214.6" width="1.9" height="26.6" fill="#dc3626"/>
<line x1="436.7" y1="208.0" x2="436.7" y2="222.9" stroke="#dc3626" stroke-width="0.7"/>
<rect x="435.75" y="209.3" width="1.9" height="13.3" fill="#dc3626"/>
<line x1="439.0" y1="213.3" x2="439.0" y2="221.0" stroke="#111" stroke-width="0.7"/>
<rect x="438.05" y="214.0" width="1.9" height="6.0" fill="#111"/>
<line x1="441.2" y1="213.7" x2="441.2" y2="221.7" stroke="#111" stroke-width="0.7"/>
<rect x="440.25" y="214.6" width="1.9" height="6.7" fill="#111"/>
<line x1="443.5" y1="218.5" x2="443.5" y2="225.2" stroke="#111" stroke-width="0.7"/>
<rect x="442.55" y="220.0" width="1.9" height="4.0" fill="#111"/>
<line x1="445.7" y1="219.5" x2="445.7" y2="227.0" stroke="#111" stroke-width="0.7"/>
<rect x="444.75" y="221.0" width="1.9" height="5.6" fill="#111"/>
<line x1="448.0" y1="223.4" x2="448.0" y2="226.3" stroke="#dc3626" stroke-width="0.7"/>
<rect x="447.05" y="224.4" width="1.9" height="1.2" fill="#dc3626"/>
<line x1="450.2" y1="222.8" x2="450.2" y2="226.6" stroke="#111" stroke-width="0.7"/>
<rect x="449.25" y="224.4" width="1.9" height="1.2" fill="#111"/>
<line x1="452.5" y1="223.0" x2="452.5" y2="226.3" stroke="#dc3626" stroke-width="0.7"/>
<rect x="451.55" y="223.9" width="1.9" height="1.2" fill="#dc3626"/>
<line x1="454.7" y1="221.9" x2="454.7" y2="227.3" stroke="#111" stroke-width="0.7"/>
<rect x="453.75" y="223.8" width="1.9" height="1.6" fill="#111"/>
<line x1="457.0" y1="223.4" x2="457.0" y2="226.5" stroke="#dc3626" stroke-width="0.7"/>
<rect x="456.05" y="224.4" width="1.9" height="1.2" fill="#dc3626"/>
<line x1="459.2" y1="222.6" x2="459.2" y2="227.0" stroke="#111" stroke-width="0.7"/>
<rect x="458.25" y="224.4" width="1.9" height="1.2" fill="#111"/>
<line x1="461.5" y1="221.9" x2="461.5" y2="225.9" stroke="#dc3626" stroke-width="0.7"/>
<rect x="460.55" y="223.5" width="1.9" height="1.5" fill="#dc3626"/>
<line x1="463.7" y1="212.9" x2="463.7" y2="224.4" stroke="#dc3626" stroke-width="0.7"/>
<rect x="462.75" y="213.3" width="1.9" height="10.0" fill="#dc3626"/>
<line x1="466.0" y1="199.2" x2="466.0" y2="213.7" stroke="#dc3626" stroke-width="0.7"/>
<rect x="465.05" y="200.0" width="1.9" height="13.3" fill="#dc3626"/>
<line x1="468.2" y1="186.6" x2="468.2" y2="206.1" stroke="#dc3626" stroke-width="0.7"/>
<rect x="467.25" y="188.0" width="1.9" height="17.0" fill="#dc3626"/>
<line x1="470.0" y1="161.6" x2="470.0" y2="195.2" stroke="#dc3626" stroke-width="0.7"/>
<rect x="469.05" y="162.9" width="1.9" height="31.9" fill="#dc3626"/>
<line x1="472.2" y1="143.6" x2="472.2" y2="164.2" stroke="#dc3626" stroke-width="0.7"/>
<rect x="471.25" y="147.6" width="1.9" height="15.3" fill="#dc3626"/>
<line x1="474.2" y1="147.2" x2="474.2" y2="164.2" stroke="#111" stroke-width="0.7"/>
<rect x="473.25" y="147.6" width="1.9" height="15.3" fill="#111"/>
<line x1="476.2" y1="152.3" x2="476.2" y2="173.5" stroke="#dc3626" stroke-width="0.7"/>
<rect x="475.25" y="152.3" width="1.9" height="10.6" fill="#dc3626"/>
<line x1="478.3" y1="146.0" x2="478.3" y2="162.4" stroke="#dc3626" stroke-width="0.7"/>
<rect x="477.35" y="151.6" width="1.9" height="10.0" fill="#dc3626"/>
<line x1="480.5" y1="151.6" x2="480.5" y2="163.9" stroke="#111" stroke-width="0.7"/>
<rect x="479.55" y="152.3" width="1.9" height="10.6" fill="#111"/>
<line x1="482.7" y1="160.2" x2="482.7" y2="165.5" stroke="#111" stroke-width="0.7"/>
<rect x="481.75" y="161.6" width="1.9" height="3.3" fill="#111"/>
<line x1="484.9" y1="162.4" x2="484.9" y2="167.8" stroke="#111" stroke-width="0.7"/>
<rect x="483.95" y="162.9" width="1.9" height="4.0" fill="#111"/>
<line x1="487.0" y1="165.6" x2="487.0" y2="183.9" stroke="#111" stroke-width="0.7"/>
<rect x="486.05" y="166.2" width="1.9" height="17.3" fill="#111"/>
<line x1="489.0" y1="177.0" x2="489.0" y2="183.2" stroke="#111" stroke-width="0.7"/>
<rect x="488.05" y="177.5" width="1.9" height="5.3" fill="#111"/>
<line x1="491.0" y1="179.7" x2="491.0" y2="188.2" stroke="#111" stroke-width="0.7"/>
<rect x="490.05" y="180.2" width="1.9" height="7.3" fill="#111"/>
<line x1="493.0" y1="176.8" x2="493.0" y2="188.0" stroke="#dc3626" stroke-width="0.7"/>
<rect x="492.05" y="177.5" width="1.9" height="9.3" fill="#dc3626"/>
<line x1="495.0" y1="172.9" x2="495.0" y2="185.0" stroke="#dc3626" stroke-width="0.7"/>
<rect x="494.05" y="173.5" width="1.9" height="10.6" fill="#dc3626"/>
<line x1="497.0" y1="172.5" x2="497.0" y2="178.7" stroke="#111" stroke-width="0.7"/>
<rect x="496.05" y="173.0" width="1.9" height="5.0" fill="#111"/>
<line x1="498.5" y1="156.2" x2="498.5" y2="175.1" stroke="#dc3626" stroke-width="0.7"/>
<rect x="497.55" y="161.6" width="1.9" height="13.2" fill="#dc3626"/>
<line x1="500.5" y1="159.9" x2="500.5" y2="171.3" stroke="#dc3626" stroke-width="0.7"/>
<rect x="499.55" y="160.5" width="1.9" height="10.5" fill="#dc3626"/>
<line x1="502.8" y1="161.7" x2="502.8" y2="170.5" stroke="#111" stroke-width="0.7"/>
<rect x="501.85" y="162.9" width="1.9" height="6.6" fill="#111"/>
<line x1="505.0" y1="157.6" x2="505.0" y2="169.5" stroke="#dc3626" stroke-width="0.7"/>
<rect x="504.05" y="159.0" width="1.9" height="10.0" fill="#dc3626"/>
<line x1="507.3" y1="160.7" x2="507.3" y2="169.6" stroke="#111" stroke-width="0.7"/>
<rect x="506.35" y="161.6" width="1.9" height="6.6" fill="#111"/>
<line x1="509.5" y1="165.1" x2="509.5" y2="178.8" stroke="#111" stroke-width="0.7"/>
<rect x="508.55" y="165.5" width="1.9" height="12.0" fill="#111"/>
<line x1="511.8" y1="168.7" x2="511.8" y2="178.4" stroke="#111" stroke-width="0.7"/>
<rect x="510.85" y="169.5" width="1.9" height="8.0" fill="#111"/>
<line x1="514.0" y1="168.7" x2="514.0" y2="178.3" stroke="#111" stroke-width="0.7"/>
<rect x="513.05" y="170.0" width="1.9" height="7.5" fill="#111"/>
<line x1="516.3" y1="173.9" x2="516.3" y2="183.2" stroke="#111" stroke-width="0.7"/>
<rect x="515.35" y="174.8" width="1.9" height="7.3" fill="#111"/>
<line x1="518.6" y1="177.3" x2="518.6" y2="182.2" stroke="#dc3626" stroke-width="0.7"/>
<rect x="517.65" y="179.3" width="1.9" height="1.6" fill="#dc3626"/>
<line x1="520.8" y1="177.5" x2="520.8" y2="185.2" stroke="#111" stroke-width="0.7"/>
<rect x="519.85" y="178.8" width="1.9" height="5.3" fill="#111"/>
<line x1="523.0" y1="180.4" x2="523.0" y2="188.9" stroke="#111" stroke-width="0.7"/>
<rect x="522.05" y="181.5" width="1.9" height="6.6" fill="#111"/>
<line x1="525.3" y1="178.1" x2="525.3" y2="185.9" stroke="#dc3626" stroke-width="0.7"/>
<rect x="524.35" y="178.8" width="1.9" height="6.7" fill="#dc3626"/>
<line x1="527.5" y1="177.7" x2="527.5" y2="185.9" stroke="#111" stroke-width="0.7"/>
<rect x="526.55" y="178.2" width="1.9" height="7.3" fill="#111"/>
<line x1="529.8" y1="177.8" x2="529.8" y2="183.6" stroke="#dc3626" stroke-width="0.7"/>
<rect x="528.85" y="179.0" width="1.9" height="4.0" fill="#dc3626"/>
<line x1="532.0" y1="177.5" x2="532.0" y2="181.4" stroke="#111" stroke-width="0.7"/>
<rect x="531.05" y="178.6" width="1.9" height="1.8" fill="#111"/>
<line x1="534.4" y1="168.9" x2="534.4" y2="180.1" stroke="#dc3626" stroke-width="0.7"/>
<rect x="533.45" y="170.2" width="1.9" height="8.6" fill="#dc3626"/>
<line x1="536.6" y1="168.4" x2="536.6" y2="179.4" stroke="#111" stroke-width="0.7"/>
<rect x="535.65" y="169.5" width="1.9" height="9.3" fill="#111"/>
<line x1="538.8" y1="172.4" x2="538.8" y2="176.7" stroke="#dc3626" stroke-width="0.7"/>
<rect x="537.85" y="173.6" width="1.9" height="1.8" fill="#dc3626"/>
<line x1="541.0" y1="173.9" x2="541.0" y2="180.7" stroke="#dc3626" stroke-width="0.7"/>
<rect x="540.05" y="174.8" width="1.9" height="5.4" fill="#dc3626"/>
<line x1="543.3" y1="172.7" x2="543.3" y2="179.4" stroke="#111" stroke-width="0.7"/>
<rect x="542.35" y="173.5" width="1.9" height="5.3" fill="#111"/>
<line x1="545.5" y1="174.5" x2="545.5" y2="180.5" stroke="#dc3626" stroke-width="0.7"/>
<rect x="544.55" y="176.6" width="1.9" height="1.8" fill="#dc3626"/>
<line x1="547.8" y1="176.0" x2="547.8" y2="180.6" stroke="#111" stroke-width="0.7"/>
<rect x="546.85" y="177.6" width="1.9" height="1.8" fill="#111"/>
<line x1="550.0" y1="173.3" x2="550.0" y2="182.2" stroke="#dc3626" stroke-width="0.7"/>
<rect x="549.05" y="174.8" width="1.9" height="6.7" fill="#dc3626"/>
<line x1="552.3" y1="166.9" x2="552.3" y2="177.0" stroke="#111" stroke-width="0.7"/>
<rect x="551.35" y="167.6" width="1.9" height="9.1" fill="#111"/>
<line x1="554.7" y1="172.5" x2="554.7" y2="181.0" stroke="#dc3626" stroke-width="0.7"/>
<rect x="553.75" y="173.3" width="1.9" height="6.8" fill="#dc3626"/>
<line x1="557.0" y1="171.1" x2="557.0" y2="175.5" stroke="#dc3626" stroke-width="0.7"/>
<rect x="556.05" y="172.6" width="1.9" height="1.8" fill="#dc3626"/>
<line x1="559.5" y1="158.1" x2="559.5" y2="174.7" stroke="#dc3626" stroke-width="0.7"/>
<rect x="558.55" y="159.0" width="1.9" height="15.4" fill="#dc3626"/>
<line x1="561.9" y1="156.2" x2="561.9" y2="168.0" stroke="#111" stroke-width="0.7"/>
<rect x="560.95" y="156.8" width="1.9" height="10.8" fill="#111"/>
<line x1="564.2" y1="148.2" x2="564.2" y2="161.6" stroke="#dc3626" stroke-width="0.7"/>
<rect x="563.25" y="149.4" width="1.9" height="11.4" fill="#dc3626"/>
<line x1="566.5" y1="154.5" x2="566.5" y2="164.6" stroke="#111" stroke-width="0.7"/>
<rect x="565.55" y="158.5" width="1.9" height="5.7" fill="#111"/>
<line x1="568.8" y1="161.6" x2="568.8" y2="171.7" stroke="#111" stroke-width="0.7"/>
<rect x="567.85" y="161.9" width="1.9" height="9.1" fill="#111"/>
<line x1="571.1" y1="165.8" x2="571.1" y2="174.3" stroke="#dc3626" stroke-width="0.7"/>
<rect x="570.15" y="166.4" width="1.9" height="6.9" fill="#dc3626"/>
<line x1="573.3" y1="165.1" x2="573.3" y2="169.7" stroke="#dc3626" stroke-width="0.7"/>
<rect x="572.35" y="166.5" width="1.9" height="1.5" fill="#dc3626"/>
<line x1="575.6" y1="163.6" x2="575.6" y2="170.5" stroke="#111" stroke-width="0.7"/>
<rect x="574.65" y="164.7" width="1.9" height="4.6" fill="#111"/>
<line x1="577.9" y1="166.8" x2="577.9" y2="172.4" stroke="#111" stroke-width="0.7"/>
<rect x="576.95" y="168.2" width="1.9" height="3.4" fill="#111"/>
<line x1="580.0" y1="171.4" x2="580.0" y2="177.1" stroke="#111" stroke-width="0.7"/>
<rect x="579.05" y="172.1" width="1.9" height="3.5" fill="#111"/>
<line x1="582.3" y1="160.8" x2="582.3" y2="176.8" stroke="#dc3626" stroke-width="0.7"/>
<rect x="581.35" y="161.3" width="1.9" height="14.3" fill="#dc3626"/>
<line x1="584.4" y1="134.6" x2="584.4" y2="161.9" stroke="#dc3626" stroke-width="0.7"/>
<rect x="583.45" y="144.8" width="1.9" height="16.0" fill="#dc3626"/>
<line x1="586.6" y1="131.7" x2="586.6" y2="148.3" stroke="#111" stroke-width="0.7"/>
<rect x="585.65" y="140.1" width="1.9" height="1.0" fill="#111"/>
<line x1="588.7" y1="142.1" x2="588.7" y2="155.2" stroke="#111" stroke-width="0.7"/>
<rect x="587.75" y="142.5" width="1.9" height="11.4" fill="#111"/>
<line x1="591.0" y1="115.9" x2="591.0" y2="149.7" stroke="#dc3626" stroke-width="0.7"/>
<rect x="590.05" y="121.0" width="1.9" height="27.3" fill="#dc3626"/>
<line x1="593.4" y1="119.9" x2="593.4" y2="127.3" stroke="#dc3626" stroke-width="0.7"/>
<rect x="592.45" y="121.0" width="1.9" height="5.1" fill="#dc3626"/>
<line x1="595.8" y1="121.4" x2="595.8" y2="130.0" stroke="#111" stroke-width="0.7"/>
<rect x="594.85" y="122.7" width="1.9" height="6.8" fill="#111"/>
<line x1="598.0" y1="123.5" x2="598.0" y2="133.8" stroke="#111" stroke-width="0.7"/>
<rect x="597.05" y="124.4" width="1.9" height="8.5" fill="#111"/>
<line x1="600.3" y1="102.2" x2="600.3" y2="122.3" stroke="#dc3626" stroke-width="0.7"/>
<rect x="599.35" y="107.3" width="1.9" height="13.7" fill="#dc3626"/>
<line x1="602.4" y1="107.7" x2="602.4" y2="120.6" stroke="#dc3626" stroke-width="0.7"/>
<rect x="601.45" y="109.0" width="1.9" height="10.3" fill="#dc3626"/>
<line x1="604.7" y1="120.0" x2="604.7" y2="146.3" stroke="#111" stroke-width="0.7"/>
<rect x="603.75" y="121.0" width="1.9" height="23.9" fill="#111"/>
<line x1="607.0" y1="136.4" x2="607.0" y2="150.0" stroke="#dc3626" stroke-width="0.7"/>
<rect x="606.05" y="136.4" width="1.9" height="8.5" fill="#dc3626"/>
<line x1="609.2" y1="126.7" x2="609.2" y2="137.5" stroke="#dc3626" stroke-width="0.7"/>
<rect x="608.25" y="127.8" width="1.9" height="8.6" fill="#dc3626"/>
<line x1="611.5" y1="115.3" x2="611.5" y2="126.4" stroke="#111" stroke-width="0.7"/>
<rect x="610.55" y="115.9" width="1.9" height="10.2" fill="#111"/>
<line x1="613.7" y1="118.8" x2="613.7" y2="128.5" stroke="#111" stroke-width="0.7"/>
<rect x="612.75" y="119.3" width="1.9" height="8.5" fill="#111"/>
<line x1="616.0" y1="127.4" x2="616.0" y2="139.3" stroke="#dc3626" stroke-width="0.7"/>
<rect x="615.05" y="127.8" width="1.9" height="10.2" fill="#dc3626"/>
<line x1="618.3" y1="85.0" x2="618.3" y2="117.8" stroke="#c02a32" stroke-width="0.7"/>
<rect x="617.35" y="86.0" width="1.9" height="30.7" fill="#c02a32"/>
<rect x="70.80" y="389.8" width="1.0" height="2.0" fill="#d03a78"/>
<rect x="73.00" y="390.2" width="1.0" height="1.6" fill="#d03a78"/>
<rect x="75.50" y="389.3" width="1.0" height="2.5" fill="#d03a78"/>
<rect x="77.50" y="389.5" width="1.0" height="2.3" fill="#d03a78"/>
<rect x="80.00" y="390.0" width="1.0" height="1.8" fill="#d03a78"/>
<rect x="82.00" y="391.5" width="1.0" height="0.3" fill="#d03a78"/>
<rect x="84.60" y="389.8" width="1.0" height="2.0" fill="#d03a78"/>
<rect x="86.50" y="390.2" width="1.0" height="1.6" fill="#d03a78"/>
<rect x="88.00" y="390.2" width="1.0" height="1.6" fill="#d03a78"/>
<rect x="90.00" y="391.5" width="1.0" height="0.3" fill="#d03a78"/>
<rect x="92.00" y="389.8" width="1.0" height="2.0" fill="#d03a78"/>
<rect x="93.70" y="389.0" width="1.0" height="2.8" fill="#d03a78"/>
<rect x="95.35" y="388.7" width="1.3" height="3.1" fill="#e86ea2" stroke="#bc1250" stroke-width="0.7"/>
<rect x="97.90" y="390.6" width="1.0" height="1.2" fill="#d03a78"/>
<rect x="100.30" y="390.9" width="1.0" height="0.9" fill="#d03a78"/>
<rect x="102.20" y="391.5" width="1.0" height="0.3" fill="#d03a78"/>
<rect x="103.60" y="390.9" width="1.0" height="0.9" fill="#d03a78"/>
<rect x="105.30" y="391.2" width="1.0" height="0.6" fill="#d03a78"/>
<rect x="106.85" y="388.7" width="1.3" height="3.1" fill="#e86ea2" stroke="#bc1250" stroke-width="0.7"/>
<rect x="109.30" y="391.2" width="1.0" height="0.6" fill="#d03a78"/>
<rect x="111.20" y="391.2" width="1.0" height="0.6" fill="#d03a78"/>
<rect x="113.30" y="389.8" width="1.0" height="2.0" fill="#d03a78"/>
<rect x="115.30" y="389.8" width="1.0" height="2.0" fill="#d03a78"/>
<rect x="117.80" y="390.6" width="1.0" height="1.2" fill="#d03a78"/>
<rect x="120.00" y="390.6" width="1.0" height="1.2" fill="#d03a78"/>
<rect x="122.20" y="390.6" width="1.0" height="1.2" fill="#d03a78"/>
<rect x="124.50" y="391.5" width="1.0" height="0.3" fill="#d03a78"/>
<rect x="126.50" y="390.6" width="1.0" height="1.2" fill="#d03a78"/>
<rect x="129.00" y="389.8" width="1.0" height="2.0" fill="#d03a78"/>
<rect x="131.50" y="390.9" width="1.0" height="0.9" fill="#d03a78"/>
<rect x="134.30" y="391.5" width="1.0" height="0.3" fill="#d03a78"/>
<rect x="137.00" y="390.2" width="1.0" height="1.6" fill="#d03a78"/>
<rect x="138.95" y="387.7" width="1.3" height="4.1" fill="#e86ea2" stroke="#bc1250" stroke-width="0.7"/>
<rect x="140.85" y="388.5" width="1.3" height="3.3" fill="#e86ea2" stroke="#bc1250" stroke-width="0.7"/>
<rect x="143.30" y="390.2" width="1.0" height="1.6" fill="#d03a78"/>
<rect x="145.50" y="391.2" width="1.0" height="0.6" fill="#d03a78"/>
<rect x="147.70" y="390.9" width="1.0" height="0.9" fill="#d03a78"/>
<rect x="150.00" y="390.9" width="1.0" height="0.9" fill="#d03a78"/>
<rect x="152.20" y="389.8" width="1.0" height="2.0" fill="#d03a78"/>
<rect x="154.50" y="389.8" width="1.0" height="2.0" fill="#d03a78"/>
<rect x="156.70" y="389.8" width="1.0" height="2.0" fill="#d03a78"/>
<rect x="159.00" y="390.9" width="1.0" height="0.9" fill="#d03a78"/>
<rect x="161.10" y="390.2" width="1.0" height="1.6" fill="#d03a78"/>
<rect x="163.50" y="390.2" width="1.0" height="1.6" fill="#d03a78"/>
<rect x="165.80" y="391.2" width="1.0" height="0.6" fill="#d03a78"/>
<rect x="168.00" y="391.5" width="1.0" height="0.3" fill="#d03a78"/>
<rect x="170.30" y="390.6" width="1.0" height="1.2" fill="#d03a78"/>
<rect x="172.50" y="391.5" width="1.0" height="0.3" fill="#d03a78"/>
<rect x="174.70" y="390.6" width="1.0" height="1.2" fill="#d03a78"/>
<rect x="176.90" y="389.0" width="1.0" height="2.8" fill="#d03a78"/>
<rect x="178.85" y="388.4" width="1.3" height="3.4" fill="#e86ea2" stroke="#bc1250" stroke-width="0.7"/>
<rect x="181.05" y="388.4" width="1.3" height="3.4" fill="#e86ea2" stroke="#bc1250" stroke-width="0.7"/>
<rect x="183.50" y="389.8" width="1.0" height="2.0" fill="#d03a78"/>
<rect x="185.70" y="390.6" width="1.0" height="1.2" fill="#d03a78"/>
<rect x="188.00" y="390.9" width="1.0" height="0.9" fill="#d03a78"/>
<rect x="190.30" y="389.8" width="1.0" height="2.0" fill="#d03a78"/>
<rect x="192.50" y="390.2" width="1.0" height="1.6" fill="#d03a78"/>
<rect x="194.80" y="390.9" width="1.0" height="0.9" fill="#d03a78"/>
<rect x="197.00" y="390.6" width="1.0" height="1.2" fill="#d03a78"/>
<rect x="199.30" y="390.6" width="1.0" height="1.2" fill="#d03a78"/>
<rect x="201.50" y="390.6" width="1.0" height="1.2" fill="#d03a78"/>
<rect x="203.80" y="391.5" width="1.0" height="0.3" fill="#d03a78"/>
<rect x="206.00" y="390.2" width="1.0" height="1.6" fill="#d03a78"/>
<rect x="208.30" y="391.2" width="1.0" height="0.6" fill="#d03a78"/>
<rect x="210.50" y="390.9" width="1.0" height="0.9" fill="#d03a78"/>
<rect x="212.80" y="391.5" width="1.0" height="0.3" fill="#d03a78"/>
<rect x="215.00" y="390.6" width="1.0" height="1.2" fill="#d03a78"/>
<rect x="217.30" y="391.5" width="1.0" height="0.3" fill="#d03a78"/>
<rect x="219.50" y="389.9" width="1.0" height="1.9" fill="#d03a78"/>
<rect x="221.80" y="390.1" width="1.0" height="1.7" fill="#d03a78"/>
<rect x="224.00" y="389.7" width="1.0" height="2.1" fill="#d03a78"/>
<rect x="226.30" y="389.2" width="1.0" height="2.6" fill="#d03a78"/>
<rect x="228.50" y="389.2" width="1.0" height="2.6" fill="#d03a78"/>
<rect x="230.80" y="389.8" width="1.0" height="2.0" fill="#d03a78"/>
<rect x="233.00" y="389.2" width="1.0" height="2.6" fill="#d03a78"/>
<rect x="235.50" y="389.2" width="1.0" height="2.6" fill="#d03a78"/>
<rect x="237.90" y="390.1" width="1.0" height="1.7" fill="#d03a78"/>
<rect x="240.40" y="391.5" width="1.0" height="0.3" fill="#d03a78"/>
<rect x="242.20" y="391.2" width="1.0" height="0.6" fill="#d03a78"/>
<rect x="244.50" y="389.8" width="1.0" height="2.0" fill="#d03a78"/>
<rect x="246.70" y="390.2" width="1.0" height="1.6" fill="#d03a78"/>
<rect x="249.00" y="390.9" width="1.0" height="0.9" fill="#d03a78"/>
<rect x="251.20" y="390.9" width="1.0" height="0.9" fill="#d03a78"/>
<rect x="253.50" y="391.2" width="1.0" height="0.6" fill="#d03a78"/>
<rect x="255.70" y="390.2" width="1.0" height="1.6" fill="#d03a78"/>
<rect x="258.45" y="379.2" width="1.3" height="12.6" fill="#e86ea2" stroke="#bc1250" stroke-width="0.7"/>
<rect x="260.55" y="387.4" width="1.3" height="4.4" fill="#e86ea2" stroke="#bc1250" stroke-width="0.7"/>
<rect x="262.90" y="389.4" width="1.0" height="2.4" fill="#d03a78"/>
<rect x="265.10" y="389.8" width="1.0" height="2.0" fill="#d03a78"/>
<rect x="267.30" y="389.4" width="1.0" height="2.4" fill="#d03a78"/>
<rect x="269.70" y="389.8" width="1.0" height="2.0" fill="#d03a78"/>
<rect x="272.00" y="390.9" width="1.0" height="0.9" fill="#d03a78"/>
<rect x="274.90" y="391.2" width="1.0" height="0.6" fill="#d03a78"/>
<rect x="277.00" y="390.6" width="1.0" height="1.2" fill="#d03a78"/>
<rect x="278.85" y="383.8" width="1.3" height="8.0" fill="#e86ea2" stroke="#bc1250" stroke-width="0.7"/>
<rect x="281.80" y="389.0" width="1.0" height="2.8" fill="#d03a78"/>
<rect x="284.00" y="389.5" width="1.0" height="2.3" fill="#d03a78"/>
<rect x="286.20" y="391.5" width="1.0" height="0.3" fill="#d03a78"/>
<rect x="288.40" y="391.2" width="1.0" height="0.6" fill="#d03a78"/>
<rect x="289.70" y="391.5" width="1.0" height="0.3" fill="#d03a78"/>
<rect x="292.00" y="390.6" width="1.0" height="1.2" fill="#d03a78"/>
<rect x="294.05" y="388.0" width="1.3" height="3.8" fill="#e86ea2" stroke="#bc1250" stroke-width="0.7"/>
<rect x="296.50" y="389.8" width="1.0" height="2.0" fill="#d03a78"/>
<rect x="298.90" y="390.6" width="1.0" height="1.2" fill="#d03a78"/>
<rect x="301.10" y="390.9" width="1.0" height="0.9" fill="#d03a78"/>
<rect x="303.40" y="389.8" width="1.0" height="2.0" fill="#d03a78"/>
<rect x="305.50" y="391.2" width="1.0" height="0.6" fill="#d03a78"/>
<rect x="307.70" y="390.6" width="1.0" height="1.2" fill="#d03a78"/>
<rect x="309.90" y="390.9" width="1.0" height="0.9" fill="#d03a78"/>
<rect x="312.10" y="389.6" width="1.0" height="2.2" fill="#d03a78"/>
<rect x="314.55" y="387.0" width="1.3" height="4.8" fill="#e86ea2" stroke="#bc1250" stroke-width="0.7"/>
<rect x="316.90" y="390.4" width="1.0" height="1.4" fill="#d03a78"/>
<rect x="319.40" y="390.3" width="1.0" height="1.5" fill="#d03a78"/>
<rect x="321.50" y="390.3" width="1.0" height="1.5" fill="#d03a78"/>
<rect x="323.90" y="390.3" width="1.0" height="1.5" fill="#d03a78"/>
<rect x="325.90" y="390.2" width="1.0" height="1.6" fill="#d03a78"/>
<rect x="328.20" y="389.8" width="1.0" height="2.0" fill="#d03a78"/>
<rect x="330.50" y="390.4" width="1.0" height="1.4" fill="#d03a78"/>
<rect x="332.70" y="391.5" width="1.0" height="0.3" fill="#d03a78"/>
<rect x="335.00" y="389.8" width="1.0" height="2.0" fill="#d03a78"/>
<rect x="337.30" y="390.9" width="1.0" height="0.9" fill="#d03a78"/>
<rect x="339.50" y="390.9" width="1.0" height="0.9" fill="#d03a78"/>
<rect x="341.70" y="390.9" width="1.0" height="0.9" fill="#d03a78"/>
<rect x="344.00" y="391.5" width="1.0" height="0.3" fill="#d03a78"/>
<rect x="346.30" y="390.6" width="1.0" height="1.2" fill="#d03a78"/>
<rect x="348.50" y="390.6" width="1.0" height="1.2" fill="#d03a78"/>
<rect x="350.80" y="390.2" width="1.0" height="1.6" fill="#d03a78"/>
<rect x="353.00" y="391.5" width="1.0" height="0.3" fill="#d03a78"/>
<rect x="355.30" y="390.9" width="1.0" height="0.9" fill="#d03a78"/>
<rect x="357.50" y="390.6" width="1.0" height="1.2" fill="#d03a78"/>
<rect x="359.80" y="390.9" width="1.0" height="0.9" fill="#d03a78"/>
<rect x="362.00" y="391.5" width="1.0" height="0.3" fill="#d03a78"/>
<rect x="364.30" y="390.9" width="1.0" height="0.9" fill="#d03a78"/>
<rect x="366.50" y="391.5" width="1.0" height="0.3" fill="#d03a78"/>
<rect x="368.70" y="391.5" width="1.0" height="0.3" fill="#d03a78"/>
<rect x="371.00" y="389.8" width="1.0" height="2.0" fill="#d03a78"/>
<rect x="373.30" y="390.9" width="1.0" height="0.9" fill="#d03a78"/>
<rect x="375.35" y="388.4" width="1.3" height="3.4" fill="#e86ea2" stroke="#bc1250" stroke-width="0.7"/>
<rect x="377.80" y="389.8" width="1.0" height="2.0" fill="#d03a78"/>
<rect x="380.00" y="391.2" width="1.0" height="0.6" fill="#d03a78"/>
<rect x="382.20" y="391.2" width="1.0" height="0.6" fill="#d03a78"/>
<rect x="384.50" y="390.9" width="1.0" height="0.9" fill="#d03a78"/>
<rect x="386.70" y="390.6" width="1.0" height="1.2" fill="#d03a78"/>
<rect x="389.00" y="390.2" width="1.0" height="1.6" fill="#d03a78"/>
<rect x="391.20" y="390.9" width="1.0" height="0.9" fill="#d03a78"/>
<rect x="393.50" y="390.4" width="1.0" height="1.4" fill="#d03a78"/>
<rect x="395.70" y="390.2" width="1.0" height="1.6" fill="#d03a78"/>
<rect x="398.00" y="389.8" width="1.0" height="2.0" fill="#d03a78"/>
<rect x="400.20" y="389.8" width="1.0" height="2.0" fill="#d03a78"/>
<rect x="402.50" y="389.9" width="1.0" height="1.9" fill="#d03a78"/>
<rect x="404.70" y="390.0" width="1.0" height="1.8" fill="#d03a78"/>
<rect x="406.90" y="389.8" width="1.0" height="2.0" fill="#d03a78"/>
<rect x="409.20" y="389.8" width="1.0" height="2.0" fill="#d03a78"/>
<rect x="411.50" y="390.1" width="1.0" height="1.7" fill="#d03a78"/>
<rect x="413.70" y="389.8" width="1.0" height="2.0" fill="#d03a78"/>
<rect x="416.00" y="391.5" width="1.0" height="0.3" fill="#d03a78"/>
<rect x="418.20" y="391.5" width="1.0" height="0.3" fill="#d03a78"/>
<rect x="420.50" y="389.6" width="1.0" height="2.2" fill="#d03a78"/>
<rect x="422.70" y="390.0" width="1.0" height="1.8" fill="#d03a78"/>
<rect x="425.00" y="389.8" width="1.0" height="2.0" fill="#d03a78"/>
<rect x="427.20" y="391.2" width="1.0" height="0.6" fill="#d03a78"/>
<rect x="429.50" y="389.8" width="1.0" height="2.0" fill="#d03a78"/>
<rect x="431.70" y="390.9" width="1.0" height="0.9" fill="#d03a78"/>
<rect x="433.85" y="373.3" width="1.3" height="18.5" fill="#e86ea2" stroke="#bc1250" stroke-width="0.7"/>
<rect x="436.05" y="360.0" width="1.3" height="31.8" fill="#e86ea2" stroke="#bc1250" stroke-width="0.7"/>
<rect x="438.35" y="386.6" width="1.3" height="5.2" fill="#e86ea2" stroke="#bc1250" stroke-width="0.7"/>
<rect x="440.55" y="387.8" width="1.3" height="4.0" fill="#e86ea2" stroke="#bc1250" stroke-width="0.7"/>
<rect x="443.00" y="390.6" width="1.0" height="1.2" fill="#d03a78"/>
<rect x="445.05" y="388.4" width="1.3" height="3.4" fill="#e86ea2" stroke="#bc1250" stroke-width="0.7"/>
<rect x="447.50" y="390.5" width="1.0" height="1.3" fill="#d03a78"/>
<rect x="449.70" y="389.8" width="1.0" height="2.0" fill="#d03a78"/>
<rect x="452.00" y="390.4" width="1.0" height="1.4" fill="#d03a78"/>
<rect x="454.20" y="390.2" width="1.0" height="1.6" fill="#d03a78"/>
<rect x="456.50" y="390.3" width="1.0" height="1.5" fill="#d03a78"/>
<rect x="458.70" y="390.3" width="1.0" height="1.5" fill="#d03a78"/>
<rect x="461.00" y="390.5" width="1.0" height="1.3" fill="#d03a78"/>
<rect x="463.05" y="386.2" width="1.3" height="5.6" fill="#e86ea2" stroke="#bc1250" stroke-width="0.7"/>
<rect x="465.35" y="376.8" width="1.3" height="15.0" fill="#e86ea2" stroke="#bc1250" stroke-width="0.7"/>
<rect x="467.55" y="325.5" width="1.3" height="66.3" fill="#e86ea2" stroke="#bc1250" stroke-width="0.7"/>
<rect x="469.35" y="325.5" width="1.3" height="66.3" fill="#e86ea2" stroke="#bc1250" stroke-width="0.7"/>
<rect x="471.55" y="307.6" width="1.3" height="84.2" fill="#e86ea2" stroke="#bc1250" stroke-width="0.7"/>
<rect x="473.55" y="363.1" width="1.3" height="28.7" fill="#e86ea2" stroke="#bc1250" stroke-width="0.7"/>
<rect x="475.55" y="357.1" width="1.3" height="34.7" fill="#e86ea2" stroke="#bc1250" stroke-width="0.7"/>
<rect x="477.65" y="351.2" width="1.3" height="40.6" fill="#e86ea2" stroke="#bc1250" stroke-width="0.7"/>
<rect x="479.85" y="351.2" width="1.3" height="40.6" fill="#e86ea2" stroke="#bc1250" stroke-width="0.7"/>
<rect x="482.05" y="373.0" width="1.3" height="18.8" fill="#e86ea2" stroke="#bc1250" stroke-width="0.7"/>
<rect x="484.25" y="382.8" width="1.3" height="9.0" fill="#e86ea2" stroke="#bc1250" stroke-width="0.7"/>
<rect x="486.35" y="379.4" width="1.3" height="12.4" fill="#e86ea2" stroke="#bc1250" stroke-width="0.7"/>
<rect x="488.35" y="385.0" width="1.3" height="6.8" fill="#e86ea2" stroke="#bc1250" stroke-width="0.7"/>
<rect x="490.35" y="383.3" width="1.3" height="8.5" fill="#e86ea2" stroke="#bc1250" stroke-width="0.7"/>
<rect x="492.50" y="389.8" width="1.0" height="2.0" fill="#d03a78"/>
<rect x="494.35" y="375.1" width="1.3" height="16.7" fill="#e86ea2" stroke="#bc1250" stroke-width="0.7"/>
<rect x="496.35" y="384.0" width="1.3" height="7.8" fill="#e86ea2" stroke="#bc1250" stroke-width="0.7"/>
<rect x="497.85" y="357.1" width="1.3" height="34.7" fill="#e86ea2" stroke="#bc1250" stroke-width="0.7"/>
<rect x="499.85" y="381.9" width="1.3" height="9.9" fill="#e86ea2" stroke="#bc1250" stroke-width="0.7"/>
<rect x="502.15" y="382.8" width="1.3" height="9.0" fill="#e86ea2" stroke="#bc1250" stroke-width="0.7"/>
<rect x="504.35" y="382.3" width="1.3" height="9.5" fill="#e86ea2" stroke="#bc1250" stroke-width="0.7"/>
<rect x="506.65" y="387.1" width="1.3" height="4.7" fill="#e86ea2" stroke="#bc1250" stroke-width="0.7"/>
<rect x="508.85" y="381.9" width="1.3" height="9.9" fill="#e86ea2" stroke="#bc1250" stroke-width="0.7"/>
<rect x="511.15" y="386.7" width="1.3" height="5.1" fill="#e86ea2" stroke="#bc1250" stroke-width="0.7"/>
<rect x="513.35" y="388.4" width="1.3" height="3.4" fill="#e86ea2" stroke="#bc1250" stroke-width="0.7"/>
<rect x="515.65" y="388.8" width="1.3" height="3.0" fill="#e86ea2" stroke="#bc1250" stroke-width="0.7"/>
<rect x="518.10" y="390.1" width="1.0" height="1.7" fill="#d03a78"/>
<rect x="520.15" y="387.1" width="1.3" height="4.7" fill="#e86ea2" stroke="#bc1250" stroke-width="0.7"/>
<rect x="522.35" y="386.7" width="1.3" height="5.1" fill="#e86ea2" stroke="#bc1250" stroke-width="0.7"/>
<rect x="524.80" y="389.1" width="1.0" height="2.7" fill="#d03a78"/>
<rect x="526.85" y="388.4" width="1.3" height="3.4" fill="#e86ea2" stroke="#bc1250" stroke-width="0.7"/>
<rect x="529.15" y="386.7" width="1.3" height="5.1" fill="#e86ea2" stroke="#bc1250" stroke-width="0.7"/>
<rect x="531.50" y="390.1" width="1.0" height="1.7" fill="#d03a78"/>
<rect x="533.75" y="384.5" width="1.3" height="7.3" fill="#e86ea2" stroke="#bc1250" stroke-width="0.7"/>
<rect x="535.95" y="388.8" width="1.3" height="3.0" fill="#e86ea2" stroke="#bc1250" stroke-width="0.7"/>
<rect x="538.30" y="390.2" width="1.0" height="1.6" fill="#d03a78"/>
<rect x="540.50" y="390.0" width="1.0" height="1.8" fill="#d03a78"/>
<rect x="542.80" y="390.0" width="1.0" height="1.8" fill="#d03a78"/>
<rect x="545.00" y="390.2" width="1.0" height="1.6" fill="#d03a78"/>
<rect x="547.30" y="389.0" width="1.0" height="2.8" fill="#d03a78"/>
<rect x="549.35" y="387.9" width="1.3" height="3.9" fill="#e86ea2" stroke="#bc1250" stroke-width="0.7"/>
<rect x="551.65" y="385.3" width="1.3" height="6.5" fill="#e86ea2" stroke="#bc1250" stroke-width="0.7"/>
<rect x="554.20" y="390.0" width="1.0" height="1.8" fill="#d03a78"/>
<rect x="556.35" y="388.5" width="1.3" height="3.3" fill="#e86ea2" stroke="#bc1250" stroke-width="0.7"/>
<rect x="558.85" y="378.5" width="1.3" height="13.3" fill="#e86ea2" stroke="#bc1250" stroke-width="0.7"/>
<rect x="561.25" y="385.3" width="1.3" height="6.5" fill="#e86ea2" stroke="#bc1250" stroke-width="0.7"/>
<rect x="563.55" y="362.8" width="1.3" height="29.0" fill="#e86ea2" stroke="#bc1250" stroke-width="0.7"/>
<rect x="565.85" y="381.9" width="1.3" height="9.9" fill="#e86ea2" stroke="#bc1250" stroke-width="0.7"/>
<rect x="568.15" y="385.7" width="1.3" height="6.1" fill="#e86ea2" stroke="#bc1250" stroke-width="0.7"/>
<rect x="570.60" y="389.0" width="1.0" height="2.8" fill="#d03a78"/>
<rect x="572.80" y="389.0" width="1.0" height="2.8" fill="#d03a78"/>
<rect x="575.10" y="389.0" width="1.0" height="2.8" fill="#d03a78"/>
<rect x="577.40" y="389.0" width="1.0" height="2.8" fill="#d03a78"/>
<rect x="579.35" y="388.0" width="1.3" height="3.8" fill="#e86ea2" stroke="#bc1250" stroke-width="0.7"/>
<rect x="581.65" y="381.1" width="1.3" height="10.7" fill="#e86ea2" stroke="#bc1250" stroke-width="0.7"/>
<rect x="583.75" y="340.0" width="1.3" height="51.8" fill="#e86ea2" stroke="#bc1250" stroke-width="0.7"/>
<rect x="585.95" y="370.8" width="1.3" height="21.0" fill="#e86ea2" stroke="#bc1250" stroke-width="0.7"/>
<rect x="588.05" y="378.8" width="1.3" height="13.0" fill="#e86ea2" stroke="#bc1250" stroke-width="0.7"/>
<rect x="590.35" y="346.9" width="1.3" height="44.9" fill="#e86ea2" stroke="#bc1250" stroke-width="0.7"/>
<rect x="592.75" y="373.4" width="1.3" height="18.4" fill="#e86ea2" stroke="#bc1250" stroke-width="0.7"/>
<rect x="595.15" y="379.9" width="1.3" height="11.9" fill="#e86ea2" stroke="#bc1250" stroke-width="0.7"/>
<rect x="597.35" y="378.8" width="1.3" height="13.0" fill="#e86ea2" stroke="#bc1250" stroke-width="0.7"/>
<rect x="599.65" y="326.4" width="1.3" height="65.4" fill="#e86ea2" stroke="#bc1250" stroke-width="0.7"/>
<rect x="601.75" y="373.4" width="1.3" height="18.4" fill="#e86ea2" stroke="#bc1250" stroke-width="0.7"/>
<rect x="604.05" y="362.3" width="1.3" height="29.5" fill="#e86ea2" stroke="#bc1250" stroke-width="0.7"/>
<rect x="606.35" y="379.9" width="1.3" height="11.9" fill="#e86ea2" stroke="#bc1250" stroke-width="0.7"/>
<rect x="608.55" y="376.8" width="1.3" height="15.0" fill="#e86ea2" stroke="#bc1250" stroke-width="0.7"/>
<rect x="610.85" y="377.6" width="1.3" height="14.2" fill="#e86ea2" stroke="#bc1250" stroke-width="0.7"/>
<rect x="613.05" y="369.1" width="1.3" height="22.7" fill="#e86ea2" stroke="#bc1250" stroke-width="0.7"/>
<rect x="615.35" y="381.1" width="1.3" height="10.7" fill="#e86ea2" stroke="#bc1250" stroke-width="0.7"/>
<rect x="617.65" y="307.6" width="1.3" height="84.2" fill="#e86ea2" stroke="#bc1250" stroke-width="0.7"/>
<polyline points="71.0,419.3 74.8,416.3 78.6,419.3 83.2,418.5 87.7,415.5 92.3,417.8 96.1,414.7 99.1,417.8 103.7,426.9 109.0,431.4 113.5,429.9 118.1,426.9 122.6,425.4 127.2,426.1 131.8,427.6 135.6,426.9 139.3,422.3 143.1,417.0 145.0,417.0 149.6,418.5 154.1,417.8 160.2,417.8 164.7,417.0 169.3,420.0 173.8,417.8 177.6,416.3 179.9,414.7 182.2,426.1 187.5,426.9 193.6,426.9 198.1,428.1 203.4,425.4 208.8,426.9 213.3,426.1 217.9,425.4 222.4,429.2 226.6,430.7 231.1,432.2 237.2,427.6 240.2,436.0 244.8,434.5 249.3,433.0 253.9,430.7 256.9,423.1 260.7,414.7 263.7,420.0 266.0,423.1 268.3,421.6 271.3,423.8 274.4,429.2 278.9,435.2 282.7,433.0 288.8,432.2 294.9,435.2 299.4,432.2 304.6,434.5 309.1,432.2 313.7,428.4 317.5,425.4 319.7,433.7 324.3,442.1 328.8,440.5 332.6,437.5 335.7,439.0 338.7,438.3 343.3,442.8 350.1,443.6 356.2,445.1 362.2,447.4 366.8,449.6 371.3,450.4 374.4,447.4 376.7,452.7 380.0,454.2 382.7,453.3 389.0,456.4 393.7,452.5 397.7,453.3 401.6,444.6 406.3,441.5 410.3,445.4 414.2,440.7 417.4,442.2 420.5,438.3 424.5,434.4 428.4,435.2 433.1,429.6 437.1,416.3 441.8,424.1 445.7,424.9 450.4,427.3 455.2,428.1 459.9,427.9 464.8,419.7 470.5,405.1 473.8,414.0 477.8,414.8 481.9,420.6 485.2,423.0 488.5,429.5 491.7,432.0 495.8,430.3 499.9,425.5 504.0,428.7 508.0,428.7 512.1,433.6 516.2,435.2 520.3,436.1 524.4,436.9 528.4,438.5 532.5,436.1 535.4,434.1 539.5,436.9 544.4,437.7 548.5,439.3 552.6,436.9 556.7,436.0 558.3,432.0 561.5,434.4 564.8,433.6 568.1,437.7 572.2,436.0 576.2,437.7 580.3,440.6 583.6,432.8 586.8,430.3 589.3,434.4 591.7,427.1 595.8,428.7 599.1,431.2 601.5,427.1 604.8,438.5 608.0,435.2 611.3,433.6 615.4,435.2 617.8,427.1" fill="none" stroke="#c83a68" stroke-width="0.95" stroke-linejoin="round"/>
<polyline points="71.0,423.8 74.1,417.0 77.9,423.8 81.7,421.6 84.7,420.8 88.5,413.2 92.3,418.5 96.1,410.2 98.4,417.0 101.4,428.4 103.7,439.0 107.5,443.6 109.7,452.4 112.0,445.1 114.3,444.3 116.6,436.0 119.6,429.9 122.6,428.4 125.7,431.4 128.0,426.1 130.2,435.2 132.5,430.7 134.8,433.7 137.8,426.9 140.9,410.2 143.9,405.6 148.0,414.0 151.1,410.2 155.6,413.2 160.2,411.7 164.0,409.4 168.5,420.8 172.3,411.7 174.6,419.3 177.6,408.7 179.9,410.2 182.2,425.4 184.5,435.2 189.0,436.0 193.6,436.0 197.4,440.5 201.2,433.0 205.0,427.6 208.8,433.0 211.8,437.5 214.8,429.2 217.9,426.9 220.9,436.7 225.0,442.0 226.6,443.6 230.3,451.2 233.4,446.6 237.2,427.6 238.7,431.4 241.0,455.0 244.8,448.1 249.3,442.1 253.1,436.0 255.4,423.8 258.4,401.1 260.7,399.6 263.0,410.2 265.3,420.0 267.5,415.5 270.6,419.3 274.4,429.9 277.4,440.5 279.4,448.1 282.7,442.1 287.3,439.0 291.8,439.0 294.9,446.6 298.7,435.2 302.0,440.5 303.0,441.3 307.6,441.3 312.1,428.4 315.2,414.7 317.5,414.0 319.7,437.5 324.3,458.0 328.8,452.7 332.6,441.3 335.7,446.6 338.7,441.3 341.0,446.6 343.3,453.4 347.1,452.7 353.1,454.2 358.4,458.8 362.2,464.1 365.3,462.6 368.3,469.4 372.9,469.4 374.7,457.2 376.7,467.9 380.0,472.4 381.1,467.8 384.3,472.2 387.4,476.0 390.6,473.7 393.0,462.7 395.3,458.0 397.7,461.1 400.8,432.8 403.2,437.5 406.3,428.1 411.1,439.9 415.0,428.9 417.4,436.7 420.5,426.5 424.5,417.0 427.6,421.0 433.1,410.0 437.1,396.6 441.8,417.0 444.1,417.8 448.1,424.1 452.8,422.6 455.2,427.3 458.0,426.5 461.5,419.7 466.4,401.8 470.5,393.0 473.0,408.3 476.2,409.1 479.5,411.6 482.7,419.7 486.0,429.5 488.5,437.7 491.7,444.2 494.2,437.7 496.6,437.7 499.1,426.3 501.5,428.7 504.0,433.6 507.2,431.2 510.5,437.7 513.7,445.9 517.0,449.1 520.3,448.3 522.7,452.4 526.0,445.9 528.4,452.4 531.7,444.2 535.0,437.7 536.3,445.0 540.3,441.0 544.4,445.8 548.5,450.7 551.8,441.0 554.2,444.2 556.7,437.7 559.1,423.0 561.5,432.0 564.0,428.7 565.6,435.2 568.9,443.4 573.0,439.3 576.2,442.6 580.3,449.9 583.6,429.5 586.8,420.5 589.3,434.4 591.7,418.1 594.2,420.5 596.6,424.6 599.9,418.9 602.3,426.3 605.6,444.2 608.0,438.5 610.5,433.6 614.6,436.9 616.2,435.2 618.2,419.7" fill="none" stroke="#88b4c2" stroke-width="0.85" stroke-linejoin="round"/>
<line x1="69.0" y1="57.0" x2="69.0" y2="476.6" stroke="#8a8a8a" stroke-width="1.3"/>
<line x1="620.5" y1="57.0" x2="620.5" y2="476.6" stroke="#707070" stroke-width="1.2"/>
<line x1="108" y1="307.4" x2="620.5" y2="307.4" stroke="#6a6a6a" stroke-width="1.1"/>
<line x1="69.0" y1="391.8" x2="620.5" y2="391.8" stroke="#9a4a6a" stroke-width="0.9"/>
<line x1="69.0" y1="476.6" x2="620.5" y2="476.6" stroke="#444" stroke-width="1.2"/>
<path d="M71.3 476.6v1.6 M73.5 476.6v1.6 M76.0 476.6v1.6 M78.0 476.6v1.6 M80.5 476.6v1.6 M82.5 476.6v1.6 M85.1 476.6v1.6 M87.0 476.6v1.6 M88.5 476.6v1.6 M90.5 476.6v1.6 M92.5 476.6v1.6 M94.2 476.6v1.6 M96.0 476.6v1.6 M98.4 476.6v1.6 M100.8 476.6v1.6 M102.7 476.6v1.6 M104.1 476.6v1.6 M105.8 476.6v1.6 M107.5 476.6v1.6 M109.8 476.6v1.6 M111.7 476.6v1.6 M113.8 476.6v1.6 M115.8 476.6v1.6 M118.3 476.6v1.6 M120.5 476.6v1.6 M122.7 476.6v1.6 M125.0 476.6v1.6 M127.0 476.6v1.6 M129.5 476.6v1.6 M132.0 476.6v1.6 M134.8 476.6v1.6 M137.5 476.6v1.6 M139.6 476.6v1.6 M141.5 476.6v1.6 M143.8 476.6v1.6 M146.0 476.6v1.6 M148.2 476.6v1.6 M150.5 476.6v1.6 M152.7 476.6v1.6 M155.0 476.6v1.6 M157.2 476.6v1.6 M159.5 476.6v1.6 M161.6 476.6v1.6 M164.0 476.6v1.6 M166.3 476.6v1.6 M168.5 476.6v1.6 M170.8 476.6v1.6 M173.0 476.6v1.6 M175.2 476.6v1.6 M177.4 476.6v1.6 M179.5 476.6v1.6 M181.7 476.6v1.6 M184.0 476.6v1.6 M186.2 476.6v1.6 M188.5 476.6v1.6 M190.8 476.6v1.6 M193.0 476.6v1.6 M195.3 476.6v1.6 M197.5 476.6v1.6 M199.8 476.6v1.6 M202.0 476.6v1.6 M204.3 476.6v1.6 M206.5 476.6v1.6 M208.8 476.6v1.6 M211.0 476.6v1.6 M213.3 476.6v1.6 M215.5 476.6v1.6 M217.8 476.6v1.6 M220.0 476.6v1.6 M222.3 476.6v1.6 M224.5 476.6v1.6 M226.8 476.6v1.6 M229.0 476.6v1.6 M231.3 476.6v1.6 M233.5 476.6v1.6 M236.0 476.6v1.6 M238.4 476.6v1.6 M240.9 476.6v1.6 M242.7 476.6v1.6 M245.0 476.6v1.6 M247.2 476.6v1.6 M249.5 476.6v1.6 M251.7 476.6v1.6 M254.0 476.6v1.6 M256.2 476.6v1.6 M259.1 476.6v1.6 M261.2 476.6v1.6 M263.4 476.6v1.6 M265.6 476.6v1.6 M267.8 476.6v1.6 M270.2 476.6v1.6 M272.5 476.6v1.6 M275.4 476.6v1.6 M277.5 476.6v1.6 M279.5 476.6v1.6 M282.3 476.6v1.6 M284.5 476.6v1.6 M286.7 476.6v1.6 M288.9 476.6v1.6 M290.2 476.6v1.6 M292.5 476.6v1.6 M294.7 476.6v1.6 M297.0 476.6v1.6 M299.4 476.6v1.6 M301.6 476.6v1.6 M303.9 476.6v1.6 M306.0 476.6v1.6 M308.2 476.6v1.6 M310.4 476.6v1.6 M312.6 476.6v1.6 M315.2 476.6v1.6 M317.4 476.6v1.6 M319.9 476.6v1.6 M322.0 476.6v1.6 M324.4 476.6v1.6 M326.4 476.6v1.6 M328.7 476.6v1.6 M331.0 476.6v1.6 M333.2 476.6v1.6 M335.5 476.6v1.6 M337.8 476.6v1.6 M340.0 476.6v1.6 M342.2 476.6v1.6 M344.5 476.6v1.6 M346.8 476.6v1.6 M349.0 476.6v1.6 M351.3 476.6v1.6 M353.5 476.6v1.6 M355.8 476.6v1.6 M358.0 476.6v1.6 M360.3 476.6v1.6 M362.5 476.6v1.6 M364.8 476.6v1.6 M367.0 476.6v1.6 M369.2 476.6v1.6 M371.5 476.6v1.6 M373.8 476.6v1.6 M376.0 476.6v1.6 M378.3 476.6v1.6 M380.5 476.6v1.6 M382.7 476.6v1.6 M385.0 476.6v1.6 M387.2 476.6v1.6 M389.5 476.6v1.6 M391.7 476.6v1.6 M394.0 476.6v1.6 M396.2 476.6v1.6 M398.5 476.6v1.6 M400.7 476.6v1.6 M403.0 476.6v1.6 M405.2 476.6v1.6 M407.4 476.6v1.6 M409.7 476.6v1.6 M412.0 476.6v1.6 M414.2 476.6v1.6 M416.5 476.6v1.6 M418.7 476.6v1.6 M421.0 476.6v1.6 M423.2 476.6v1.6 M425.5 476.6v1.6 M427.7 476.6v1.6 M430.0 476.6v1.6 M432.2 476.6v1.6 M434.5 476.6v1.6 M436.7 476.6v1.6 M439.0 476.6v1.6 M441.2 476.6v1.6 M443.5 476.6v1.6 M445.7 476.6v1.6 M448.0 476.6v1.6 M450.2 476.6v1.6 M452.5 476.6v1.6 M454.7 476.6v1.6 M457.0 476.6v1.6 M459.2 476.6v1.6 M461.5 476.6v1.6 M463.7 476.6v1.6 M466.0 476.6v1.6 M468.2 476.6v1.6 M470.0 476.6v1.6 M472.2 476.6v1.6 M474.2 476.6v1.6 M476.2 476.6v1.6 M478.3 476.6v1.6 M480.5 476.6v1.6 M482.7 476.6v1.6 M484.9 476.6v1.6 M487.0 476.6v1.6 M489.0 476.6v1.6 M491.0 476.6v1.6 M493.0 476.6v1.6 M495.0 476.6v1.6 M497.0 476.6v1.6 M498.5 476.6v1.6 M500.5 476.6v1.6 M502.8 476.6v1.6 M505.0 476.6v1.6 M507.3 476.6v1.6 M509.5 476.6v1.6 M511.8 476.6v1.6 M514.0 476.6v1.6 M516.3 476.6v1.6 M518.6 476.6v1.6 M520.8 476.6v1.6 M523.0 476.6v1.6 M525.3 476.6v1.6 M527.5 476.6v1.6 M529.8 476.6v1.6 M532.0 476.6v1.6 M534.4 476.6v1.6 M536.6 476.6v1.6 M538.8 476.6v1.6 M541.0 476.6v1.6 M543.3 476.6v1.6 M545.5 476.6v1.6 M547.8 476.6v1.6 M550.0 476.6v1.6 M552.3 476.6v1.6 M554.7 476.6v1.6 M557.0 476.6v1.6 M559.5 476.6v1.6 M561.9 476.6v1.6 M564.2 476.6v1.6 M566.5 476.6v1.6 M568.8 476.6v1.6 M571.1 476.6v1.6 M573.3 476.6v1.6 M575.6 476.6v1.6 M577.9 476.6v1.6 M580.0 476.6v1.6 M582.3 476.6v1.6 M584.4 476.6v1.6 M586.6 476.6v1.6 M588.7 476.6v1.6 M591.0 476.6v1.6 M593.4 476.6v1.6 M595.8 476.6v1.6 M598.0 476.6v1.6 M600.3 476.6v1.6 M602.4 476.6v1.6 M604.7 476.6v1.6 M607.0 476.6v1.6 M609.2 476.6v1.6 M611.5 476.6v1.6 M613.7 476.6v1.6 M616.0 476.6v1.6 M618.3 476.6v1.6" stroke="#555" stroke-width="0.7"/>
<path d="M80.3 476.6v3 M118.5 476.6v3 M168.9 476.6v3 M214.3 476.6v3 M261.2 476.6v3 M310.4 476.6v3 M357.8 476.6v3 M401.4 476.6v3 M451.5 476.6v3 M498.5 476.6v3 M548.4 476.6v3 M576.5 476.6v3 M618.6 476.6v3" stroke="#555" stroke-width="0.9"/>
<text x="68.55" y="27.3" font-size="25.5" fill="#111" stroke="#111" stroke-width="0.35" textLength="42.99" lengthAdjust="spacingAndGlyphs" style="font-family:&quot;Liberation Serif&quot;,&quot;Noto Serif CJK TC&quot;,&quot;Noto Serif CJK SC&quot;,serif">5515</text>
<text x="124.85" y="27.4" font-size="21.5" fill="#111" stroke="#111" stroke-width="0.55" textLength="89.95" lengthAdjust="spacingAndGlyphs" style="font-family:&quot;Liberation Serif&quot;,&quot;Noto Serif CJK TC&quot;,&quot;Noto Serif CJK SC&quot;,serif">建國工程</text>
<text x="221.09" y="27.6" font-size="25.5" fill="#111" stroke="#111" stroke-width="0.35" textLength="76.04" lengthAdjust="spacingAndGlyphs" style="font-family:&quot;Liberation Serif&quot;,&quot;Noto Serif CJK TC&quot;,&quot;Noto Serif CJK SC&quot;,serif">1130327</text>
<text x="297.21" y="25.8" font-size="25" fill="#111" stroke="#111" stroke-width="0.35" textLength="5.96" lengthAdjust="spacingAndGlyphs" style="font-family:&quot;Liberation Serif&quot;,&quot;Noto Serif CJK TC&quot;,&quot;Noto Serif CJK SC&quot;,serif">(</text>
<text x="302.47" y="27.4" font-size="21.5" fill="#111" stroke="#111" stroke-width="0.55" textLength="68.77" lengthAdjust="spacingAndGlyphs" style="font-family:&quot;Liberation Serif&quot;,&quot;Noto Serif CJK TC&quot;,&quot;Noto Serif CJK SC&quot;,serif">日線圖</text>
<text x="372.42" y="25.8" font-size="25" fill="#111" stroke="#111" stroke-width="0.35" textLength="5.96" lengthAdjust="spacingAndGlyphs" style="font-family:&quot;Liberation Serif&quot;,&quot;Noto Serif CJK TC&quot;,&quot;Noto Serif CJK SC&quot;,serif">)</text>
<text x="535.83" y="30.2" font-size="20" fill="#111" stroke="#111" stroke-width="0.55" textLength="85.13" lengthAdjust="spacingAndGlyphs" style="font-family:&quot;Liberation Serif&quot;,&quot;Noto Serif CJK TC&quot;,&quot;Noto Serif CJK SC&quot;,serif">時報資訊</text>
<text x="68.5" y="50.4" font-size="20" fill="#111" stroke="#111" stroke-width="0.55" textLength="20.45" lengthAdjust="spacingAndGlyphs" style="font-family:&quot;Liberation Serif&quot;,&quot;Noto Serif CJK TC&quot;,&quot;Noto Serif CJK SC&quot;,serif">開</text>
<text x="89.65" y="50.5" font-size="24" fill="#111" stroke="#111" stroke-width="0.35" textLength="6.14" lengthAdjust="spacingAndGlyphs" style="font-family:&quot;Liberation Serif&quot;,&quot;Noto Serif CJK TC&quot;,&quot;Noto Serif CJK SC&quot;,serif">:</text>
<text x="95.64" y="50.5" font-size="24" fill="#111" stroke="#111" stroke-width="0.35" textLength="44.13" lengthAdjust="spacingAndGlyphs" style="font-family:&quot;Liberation Serif&quot;,&quot;Noto Serif CJK TC&quot;,&quot;Noto Serif CJK SC&quot;,serif">20.15</text>
<text x="145.72" y="50.4" font-size="20" fill="#111" stroke="#111" stroke-width="0.55" textLength="21.43" lengthAdjust="spacingAndGlyphs" style="font-family:&quot;Liberation Serif&quot;,&quot;Noto Serif CJK TC&quot;,&quot;Noto Serif CJK SC&quot;,serif">高</text>
<text x="166.22" y="50.5" font-size="24" fill="#111" stroke="#111" stroke-width="0.35" textLength="5.9" lengthAdjust="spacingAndGlyphs" style="font-family:&quot;Liberation Serif&quot;,&quot;Noto Serif CJK TC&quot;,&quot;Noto Serif CJK SC&quot;,serif">:</text>
<text x="172.14" y="50.5" font-size="24" fill="#111" stroke="#111" stroke-width="0.35" textLength="43.92" lengthAdjust="spacingAndGlyphs" style="font-family:&quot;Liberation Serif&quot;,&quot;Noto Serif CJK TC&quot;,&quot;Noto Serif CJK SC&quot;,serif">21.55</text>
<text x="222.47" y="50.4" font-size="20" fill="#111" stroke="#111" stroke-width="0.55" textLength="22.0" lengthAdjust="spacingAndGlyphs" style="font-family:&quot;Liberation Serif&quot;,&quot;Noto Serif CJK TC&quot;,&quot;Noto Serif CJK SC&quot;,serif">低</text>
<text x="243.35" y="50.5" font-size="24" fill="#111" stroke="#111" stroke-width="0.35" textLength="6.14" lengthAdjust="spacingAndGlyphs" style="font-family:&quot;Liberation Serif&quot;,&quot;Noto Serif CJK TC&quot;,&quot;Noto Serif CJK SC&quot;,serif">:</text>
<text x="248.63" y="50.5" font-size="24" fill="#111" stroke="#111" stroke-width="0.35" textLength="35.19" lengthAdjust="spacingAndGlyphs" style="font-family:&quot;Liberation Serif&quot;,&quot;Noto Serif CJK TC&quot;,&quot;Noto Serif CJK SC&quot;,serif">19.9</text>
<text x="289.22" y="50.4" font-size="20" fill="#111" stroke="#111" stroke-width="0.55" textLength="20.68" lengthAdjust="spacingAndGlyphs" style="font-family:&quot;Liberation Serif&quot;,&quot;Noto Serif CJK TC&quot;,&quot;Noto Serif CJK SC&quot;,serif">收</text>
<text x="309.52" y="50.5" font-size="24" fill="#111" stroke="#111" stroke-width="0.35" textLength="5.9" lengthAdjust="spacingAndGlyphs" style="font-family:&quot;Liberation Serif&quot;,&quot;Noto Serif CJK TC&quot;,&quot;Noto Serif CJK SC&quot;,serif">:</text>
<text x="315.22" y="50.5" font-size="24" fill="#111" stroke="#111" stroke-width="0.35" textLength="44.96" lengthAdjust="spacingAndGlyphs" style="font-family:&quot;Liberation Serif&quot;,&quot;Noto Serif CJK TC&quot;,&quot;Noto Serif CJK SC&quot;,serif">21.55</text>
<text x="366.43" y="50.4" font-size="20" fill="#111" stroke="#111" stroke-width="0.55" textLength="20.95" lengthAdjust="spacingAndGlyphs" style="font-family:&quot;Liberation Serif&quot;,&quot;Noto Serif CJK TC&quot;,&quot;Noto Serif CJK SC&quot;,serif">量</text>
<text x="386.52" y="50.5" font-size="24" fill="#111" stroke="#111" stroke-width="0.35" textLength="5.9" lengthAdjust="spacingAndGlyphs" style="font-family:&quot;Liberation Serif&quot;,&quot;Noto Serif CJK TC&quot;,&quot;Noto Serif CJK SC&quot;,serif">:</text>
<text x="392.58" y="50.5" font-size="24" fill="#111" stroke="#111" stroke-width="0.35" textLength="48.86" lengthAdjust="spacingAndGlyphs" style="font-family:&quot;Liberation Serif&quot;,&quot;Noto Serif CJK TC&quot;,&quot;Noto Serif CJK SC&quot;,serif">17810</text>
<text x="448.43" y="50.4" font-size="20" fill="#111" stroke="#111" stroke-width="0.55" textLength="20.26" lengthAdjust="spacingAndGlyphs" style="font-family:&quot;Liberation Serif&quot;,&quot;Noto Serif CJK TC&quot;,&quot;Noto Serif CJK SC&quot;,serif">漲</text>
<text x="473.65" y="50.5" font-size="24" fill="#111" stroke="#111" stroke-width="0.35" textLength="34.83" lengthAdjust="spacingAndGlyphs" style="font-family:&quot;Liberation Serif&quot;,&quot;Noto Serif CJK TC&quot;,&quot;Noto Serif CJK SC&quot;,serif">1.95</text>
<text x="580.88" y="66.4" font-size="18.2" fill="#111" stroke="#111" stroke-width="0.35" textLength="37.3" lengthAdjust="spacingAndGlyphs" style="font-family:&quot;Liberation Serif&quot;,&quot;Noto Serif CJK TC&quot;,&quot;Noto Serif CJK SC&quot;,serif">03/27</text>
<text x="581.18" y="83.5" font-size="18.2" fill="#111" stroke="#111" stroke-width="0.35" textLength="36.76" lengthAdjust="spacingAndGlyphs" style="font-family:&quot;Liberation Serif&quot;,&quot;Noto Serif CJK TC&quot;,&quot;Noto Serif CJK SC&quot;,serif">21.55</text>
<text x="71.08" y="293.1" font-size="18.2" fill="#111" stroke="#111" stroke-width="0.35" textLength="37.04" lengthAdjust="spacingAndGlyphs" style="font-family:&quot;Liberation Serif&quot;,&quot;Noto Serif CJK TC&quot;,&quot;Noto Serif CJK SC&quot;,serif">03/28</text>
<text x="71.79" y="309.9" font-size="18.2" fill="#111" stroke="#111" stroke-width="0.35" textLength="36.03" lengthAdjust="spacingAndGlyphs" style="font-family:&quot;Liberation Serif&quot;,&quot;Noto Serif CJK TC&quot;,&quot;Noto Serif CJK SC&quot;,serif">12.65</text>
<text x="125.83" y="74" font-size="17.5" fill="#1f86a6" stroke="#1f86a6" stroke-width="0.12" textLength="90.49" lengthAdjust="spacingAndGlyphs" style="font-family:&quot;Liberation Serif&quot;,&quot;Noto Serif CJK TC&quot;,&quot;Noto Serif CJK SC&quot;,serif">MA10(19.83)</text>
<text x="125.84" y="90.8" font-size="17.5" fill="#c0104f" stroke="#c0104f" stroke-width="0.12" textLength="88.77" lengthAdjust="spacingAndGlyphs" style="font-family:&quot;Liberation Serif&quot;,&quot;Noto Serif CJK TC&quot;,&quot;Noto Serif CJK SC&quot;,serif">MA30(18.74)</text>
<text x="126.34" y="457.6" font-size="17.6" fill="#c0104f" stroke="#c0104f" stroke-width="0.12" textLength="87.46" lengthAdjust="spacingAndGlyphs" style="font-family:&quot;Liberation Serif&quot;,&quot;Noto Serif CJK TC&quot;,&quot;Noto Serif CJK SC&quot;,serif">RSI30(65.06)</text>
<text x="126.34" y="473.5" font-size="17.6" fill="#1f86a6" stroke="#1f86a6" stroke-width="0.12" textLength="88.27" lengthAdjust="spacingAndGlyphs" style="font-family:&quot;Liberation Serif&quot;,&quot;Noto Serif CJK TC&quot;,&quot;Noto Serif CJK SC&quot;,serif">RSI10(71.50)</text>
<text x="71.36" y="324.3" font-size="16.8" fill="#d03c7a" stroke="#d03c7a" stroke-width="0.2" textLength="78.99" lengthAdjust="spacingAndGlyphs" style="font-family:&quot;Liberation Serif&quot;,&quot;Noto Serif CJK TC&quot;,&quot;Noto Serif CJK SC&quot;,serif">成交量(張)</text>
<text x="348.4" y="494.8" font-size="18.5" fill="#111" stroke="#111" stroke-width="0.35" textLength="17.05" lengthAdjust="spacingAndGlyphs" style="font-family:&quot;Liberation Serif&quot;,&quot;Noto Serif CJK TC&quot;,&quot;Noto Serif CJK SC&quot;,serif">10</text>
<text x="393.07" y="494.8" font-size="18.5" fill="#111" stroke="#111" stroke-width="0.35" textLength="16.31" lengthAdjust="spacingAndGlyphs" style="font-family:&quot;Liberation Serif&quot;,&quot;Noto Serif CJK TC&quot;,&quot;Noto Serif CJK SC&quot;,serif">11</text>
<text x="442.47" y="494.8" font-size="18.5" fill="#111" stroke="#111" stroke-width="0.35" textLength="17.39" lengthAdjust="spacingAndGlyphs" style="font-family:&quot;Liberation Serif&quot;,&quot;Noto Serif CJK TC&quot;,&quot;Noto Serif CJK SC&quot;,serif">12</text>
<text x="603.62" y="494.8" font-size="18.5" fill="#111" stroke="#111" stroke-width="0.35" textLength="29.16" lengthAdjust="spacingAndGlyphs" style="font-family:&quot;Liberation Serif&quot;,&quot;Noto Serif CJK TC&quot;,&quot;Noto Serif CJK SC&quot;,serif">3/27</text>
<text x="76.35" y="511.5" font-size="18.5" fill="#111" stroke="#111" stroke-width="0.35" textLength="24.76" lengthAdjust="spacingAndGlyphs" style="font-family:&quot;Liberation Serif&quot;,&quot;Noto Serif CJK TC&quot;,&quot;Noto Serif CJK SC&quot;,serif">112</text>
<text x="493.83" y="511.5" font-size="18.5" fill="#111" stroke="#111" stroke-width="0.35" textLength="25.02" lengthAdjust="spacingAndGlyphs" style="font-family:&quot;Liberation Serif&quot;,&quot;Noto Serif CJK TC&quot;,&quot;Noto Serif CJK SC&quot;,serif">113</text>
<text x="39.85" y="71.5" font-size="18.6" fill="#111" stroke="#111" stroke-width="0.35" textLength="28.32" lengthAdjust="spacingAndGlyphs" style="font-family:&quot;Liberation Serif&quot;,&quot;Noto Serif CJK TC&quot;,&quot;Noto Serif CJK SC&quot;,serif">22.9</text>
<text x="39.9" y="104.4" font-size="18.6" fill="#111" stroke="#111" stroke-width="0.35" textLength="28.32" lengthAdjust="spacingAndGlyphs" style="font-family:&quot;Liberation Serif&quot;,&quot;Noto Serif CJK TC&quot;,&quot;Noto Serif CJK SC&quot;,serif">21.0</text>
<text x="39.8" y="146.9" font-size="18.6" fill="#111" stroke="#111" stroke-width="0.35" textLength="28.32" lengthAdjust="spacingAndGlyphs" style="font-family:&quot;Liberation Serif&quot;,&quot;Noto Serif CJK TC&quot;,&quot;Noto Serif CJK SC&quot;,serif">19.0</text>
<text x="40.05" y="188.5" font-size="18.6" fill="#111" stroke="#111" stroke-width="0.35" textLength="28.32" lengthAdjust="spacingAndGlyphs" style="font-family:&quot;Liberation Serif&quot;,&quot;Noto Serif CJK TC&quot;,&quot;Noto Serif CJK SC&quot;,serif">17.1</text>
<text x="39.97" y="230.2" font-size="18.6" fill="#111" stroke="#111" stroke-width="0.35" textLength="28.32" lengthAdjust="spacingAndGlyphs" style="font-family:&quot;Liberation Serif&quot;,&quot;Noto Serif CJK TC&quot;,&quot;Noto Serif CJK SC&quot;,serif">15.2</text>
<text x="39.77" y="271.6" font-size="18.6" fill="#111" stroke="#111" stroke-width="0.35" textLength="28.32" lengthAdjust="spacingAndGlyphs" style="font-family:&quot;Liberation Serif&quot;,&quot;Noto Serif CJK TC&quot;,&quot;Noto Serif CJK SC&quot;,serif">13.2</text>
<text x="39.51" y="304.5" font-size="18.6" fill="#111" stroke="#111" stroke-width="0.35" textLength="28.32" lengthAdjust="spacingAndGlyphs" style="font-family:&quot;Liberation Serif&quot;,&quot;Noto Serif CJK TC&quot;,&quot;Noto Serif CJK SC&quot;,serif">11.3</text>
<text x="27.11" y="321.8" font-size="18.6" fill="#111" stroke="#111" stroke-width="0.35" textLength="40.45" lengthAdjust="spacingAndGlyphs" style="font-family:&quot;Liberation Serif&quot;,&quot;Noto Serif CJK TC&quot;,&quot;Noto Serif CJK SC&quot;,serif">17857</text>
<text x="27.31" y="341.4" font-size="18.6" fill="#111" stroke="#111" stroke-width="0.35" textLength="40.45" lengthAdjust="spacingAndGlyphs" style="font-family:&quot;Liberation Serif&quot;,&quot;Noto Serif CJK TC&quot;,&quot;Noto Serif CJK SC&quot;,serif">11919</text>
<text x="34.81" y="369.8" font-size="18.6" fill="#111" stroke="#111" stroke-width="0.35" textLength="32.36" lengthAdjust="spacingAndGlyphs" style="font-family:&quot;Liberation Serif&quot;,&quot;Noto Serif CJK TC&quot;,&quot;Noto Serif CJK SC&quot;,serif">5981</text>
<text x="52.11" y="389.2" font-size="18.6" fill="#111" stroke="#111" stroke-width="0.35" textLength="16.18" lengthAdjust="spacingAndGlyphs" style="font-family:&quot;Liberation Serif&quot;,&quot;Noto Serif CJK TC&quot;,&quot;Noto Serif CJK SC&quot;,serif">42</text>
<text x="50.97" y="406.7" font-size="18.6" fill="#111" stroke="#111" stroke-width="0.35" textLength="16.18" lengthAdjust="spacingAndGlyphs" style="font-family:&quot;Liberation Serif&quot;,&quot;Noto Serif CJK TC&quot;,&quot;Noto Serif CJK SC&quot;,serif">94</text>
<text x="51.43" y="426.1" font-size="18.6" fill="#111" stroke="#111" stroke-width="0.35" textLength="16.18" lengthAdjust="spacingAndGlyphs" style="font-family:&quot;Liberation Serif&quot;,&quot;Noto Serif CJK TC&quot;,&quot;Noto Serif CJK SC&quot;,serif">70</text>
<text x="51.18" y="454.4" font-size="18.6" fill="#111" stroke="#111" stroke-width="0.35" textLength="16.18" lengthAdjust="spacingAndGlyphs" style="font-family:&quot;Liberation Serif&quot;,&quot;Noto Serif CJK TC&quot;,&quot;Noto Serif CJK SC&quot;,serif">47</text>
<text x="51.35" y="474" font-size="18.6" fill="#111" stroke="#111" stroke-width="0.35" textLength="16.18" lengthAdjust="spacingAndGlyphs" style="font-family:&quot;Liberation Serif&quot;,&quot;Noto Serif CJK TC&quot;,&quot;Noto Serif CJK SC&quot;,serif">23</text>
<text x="75.89" y="494.8" font-size="18.5" fill="#111" stroke="#111" stroke-width="0.35" textLength="7.96" lengthAdjust="spacingAndGlyphs" style="font-family:&quot;Liberation Serif&quot;,&quot;Noto Serif CJK TC&quot;,&quot;Noto Serif CJK SC&quot;,serif">4</text>
<text x="114.62" y="494.8" font-size="18.5" fill="#111" stroke="#111" stroke-width="0.35" textLength="7.96" lengthAdjust="spacingAndGlyphs" style="font-family:&quot;Liberation Serif&quot;,&quot;Noto Serif CJK TC&quot;,&quot;Noto Serif CJK SC&quot;,serif">5</text>
<text x="164.87" y="494.8" font-size="18.5" fill="#111" stroke="#111" stroke-width="0.35" textLength="7.96" lengthAdjust="spacingAndGlyphs" style="font-family:&quot;Liberation Serif&quot;,&quot;Noto Serif CJK TC&quot;,&quot;Noto Serif CJK SC&quot;,serif">6</text>
<text x="210.08" y="494.8" font-size="18.5" fill="#111" stroke="#111" stroke-width="0.35" textLength="7.96" lengthAdjust="spacingAndGlyphs" style="font-family:&quot;Liberation Serif&quot;,&quot;Noto Serif CJK TC&quot;,&quot;Noto Serif CJK SC&quot;,serif">7</text>
<text x="257.22" y="494.8" font-size="18.5" fill="#111" stroke="#111" stroke-width="0.35" textLength="7.95" lengthAdjust="spacingAndGlyphs" style="font-family:&quot;Liberation Serif&quot;,&quot;Noto Serif CJK TC&quot;,&quot;Noto Serif CJK SC&quot;,serif">8</text>
<text x="306.54" y="494.8" font-size="18.5" fill="#111" stroke="#111" stroke-width="0.35" textLength="7.96" lengthAdjust="spacingAndGlyphs" style="font-family:&quot;Liberation Serif&quot;,&quot;Noto Serif CJK TC&quot;,&quot;Noto Serif CJK SC&quot;,serif">9</text>
<text x="494.55" y="494.8" font-size="18.5" fill="#111" stroke="#111" stroke-width="0.35" textLength="7.96" lengthAdjust="spacingAndGlyphs" style="font-family:&quot;Liberation Serif&quot;,&quot;Noto Serif CJK TC&quot;,&quot;Noto Serif CJK SC&quot;,serif">1</text>
<text x="544.81" y="494.8" font-size="18.5" fill="#111" stroke="#111" stroke-width="0.35" textLength="7.95" lengthAdjust="spacingAndGlyphs" style="font-family:&quot;Liberation Serif&quot;,&quot;Noto Serif CJK TC&quot;,&quot;Noto Serif CJK SC&quot;,serif">2</text>
<text x="573.55" y="494.8" font-size="18.5" fill="#111" stroke="#111" stroke-width="0.35" textLength="7.95" lengthAdjust="spacingAndGlyphs" style="font-family:&quot;Liberation Serif&quot;,&quot;Noto Serif CJK TC&quot;,&quot;Noto Serif CJK SC&quot;,serif">3</text>
</svg></body></html>
